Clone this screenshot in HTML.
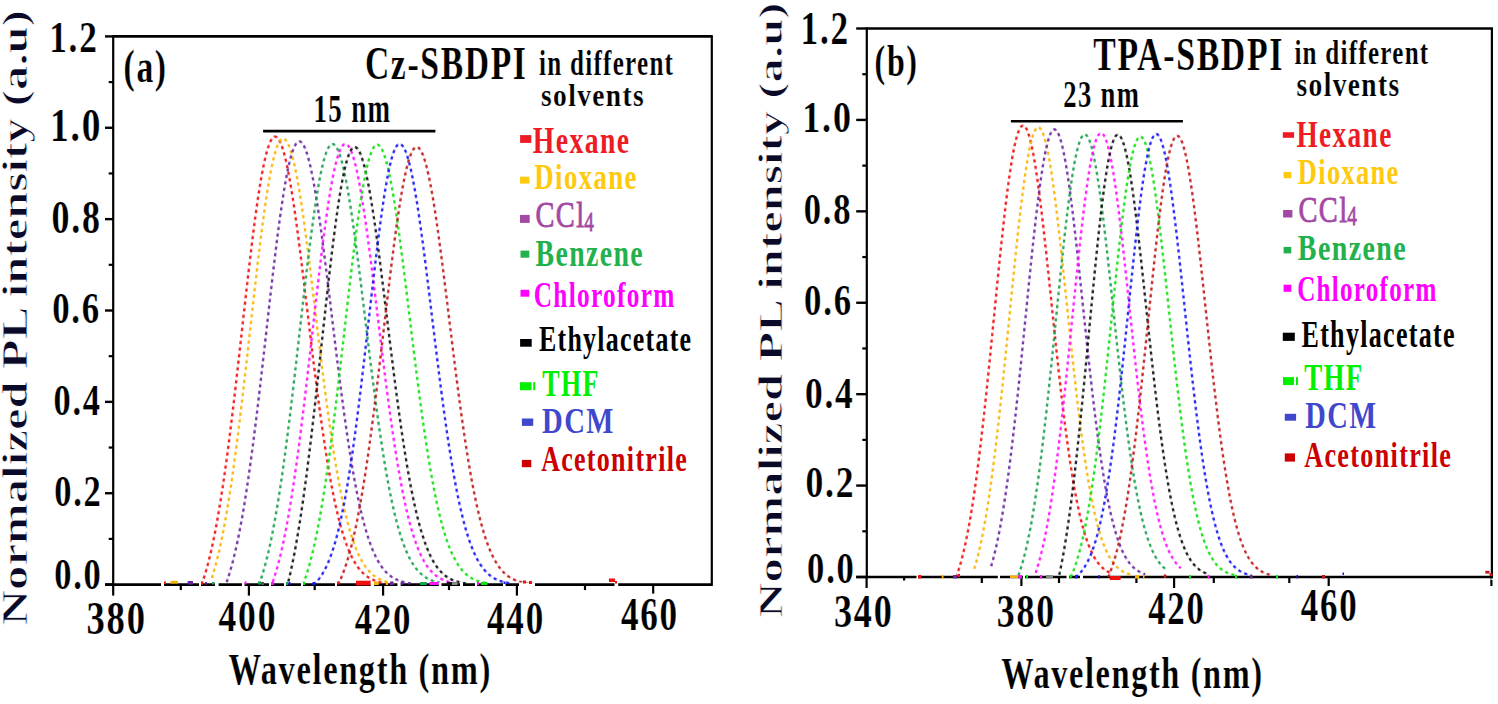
<!DOCTYPE html>
<html><head><meta charset="utf-8"><style>
html,body{margin:0;padding:0;background:#fff;}
body{width:1498px;height:704px;overflow:hidden;}
svg{display:block;}
text{font-family:"Liberation Serif",serif;}
.tv{stroke:#fff;stroke-width:0.8px;}
.th{stroke:#fff;stroke-width:0.2px;}
</style></head><body>
<svg width="1498" height="704" viewBox="0 0 1498 704">
<rect width="1498" height="704" fill="#fff"/>
<line x1="113.20" y1="36.40" x2="712.80" y2="36.40" stroke="#000" stroke-width="2.6" />
<line x1="711.80" y1="36.40" x2="711.80" y2="584.60" stroke="#000" stroke-width="2.2" />
<line x1="113.20" y1="35.10" x2="113.20" y2="585.90" stroke="#000" stroke-width="2.2" />
<line x1="105.00" y1="584.60" x2="712.80" y2="584.60" stroke="#000" stroke-width="2.6" />
<line x1="105.00" y1="584.60" x2="113.20" y2="584.60" stroke="#000" stroke-width="2.4" />
<line x1="108.70" y1="538.92" x2="113.20" y2="538.92" stroke="#000" stroke-width="2.2" />
<line x1="105.00" y1="493.23" x2="113.20" y2="493.23" stroke="#000" stroke-width="2.4" />
<line x1="108.70" y1="447.55" x2="113.20" y2="447.55" stroke="#000" stroke-width="2.2" />
<line x1="105.00" y1="401.87" x2="113.20" y2="401.87" stroke="#000" stroke-width="2.4" />
<line x1="108.70" y1="356.18" x2="113.20" y2="356.18" stroke="#000" stroke-width="2.2" />
<line x1="105.00" y1="310.50" x2="113.20" y2="310.50" stroke="#000" stroke-width="2.4" />
<line x1="108.70" y1="264.82" x2="113.20" y2="264.82" stroke="#000" stroke-width="2.2" />
<line x1="105.00" y1="219.13" x2="113.20" y2="219.13" stroke="#000" stroke-width="2.4" />
<line x1="108.70" y1="173.45" x2="113.20" y2="173.45" stroke="#000" stroke-width="2.2" />
<line x1="105.00" y1="127.77" x2="113.20" y2="127.77" stroke="#000" stroke-width="2.4" />
<line x1="108.70" y1="82.08" x2="113.20" y2="82.08" stroke="#000" stroke-width="2.2" />
<line x1="105.00" y1="36.40" x2="113.20" y2="36.40" stroke="#000" stroke-width="2.4" />
<line x1="113.20" y1="584.60" x2="113.20" y2="595.60" stroke="#000" stroke-width="2.2" />
<line x1="180.80" y1="584.60" x2="180.80" y2="590.10" stroke="#000" stroke-width="2.2" />
<line x1="248.90" y1="584.60" x2="248.90" y2="595.60" stroke="#000" stroke-width="2.2" />
<line x1="314.70" y1="584.60" x2="314.70" y2="590.10" stroke="#000" stroke-width="2.2" />
<line x1="383.10" y1="584.60" x2="383.10" y2="595.60" stroke="#000" stroke-width="2.2" />
<line x1="449.00" y1="584.60" x2="449.00" y2="590.10" stroke="#000" stroke-width="2.2" />
<line x1="516.90" y1="584.60" x2="516.90" y2="595.60" stroke="#000" stroke-width="2.2" />
<line x1="585.00" y1="584.60" x2="585.00" y2="590.10" stroke="#000" stroke-width="2.2" />
<line x1="653.20" y1="584.60" x2="653.20" y2="593.60" stroke="#000" stroke-width="2.2" />
<path d="M201.6,584.6 L202.6,581.8 L203.6,578.8 L204.6,575.6 L205.6,572.3 L206.6,568.8 L207.6,565.2 L208.6,561.3 L209.6,557.3 L210.6,553.1 L211.6,548.8 L212.6,544.2 L213.6,539.4 L214.6,534.5 L215.6,529.3 L216.6,523.9 L217.6,518.4 L218.6,512.6 L219.6,506.7 L220.6,500.5 L221.6,494.2 L222.6,487.6 L223.6,480.9 L224.6,473.9 L225.6,466.8 L226.6,459.5 L227.6,452.0 L228.6,444.4 L229.6,436.5 L230.6,428.6 L231.6,420.4 L232.6,412.2 L233.6,403.8 L234.6,395.3 L235.6,386.7 L236.6,378.0 L237.6,369.2 L238.6,360.3 L239.6,351.4 L240.6,342.4 L241.6,333.5 L242.6,324.5 L243.6,315.5 L244.6,306.6 L245.6,297.6 L246.6,288.8 L247.6,280.0 L248.6,271.4 L249.6,262.8 L250.6,254.4 L251.6,246.1 L252.6,238.0 L253.6,230.1 L254.6,222.4 L255.6,214.9 L256.6,207.7 L257.6,200.7 L258.6,194.1 L259.6,187.7 L260.6,181.6 L261.6,175.8 L262.6,170.4 L263.6,165.4 L264.6,160.7 L265.6,156.4 L266.6,152.6 L267.6,149.1 L268.6,146.0 L269.6,143.3 L270.6,141.1 L271.6,139.3 L272.6,138.0 L273.6,137.1 L274.6,136.7 L275.6,136.7 L276.6,137.1 L277.6,137.9 L278.6,139.2 L279.6,140.9 L280.6,143.0 L281.6,145.5 L282.6,148.4 L283.6,151.7 L284.6,155.3 L285.6,159.4 L286.6,163.8 L287.6,168.5 L288.6,173.6 L289.6,179.0 L290.6,184.8 L291.6,190.8 L292.6,197.1 L293.6,203.6 L294.6,210.4 L295.6,217.4 L296.6,224.6 L297.6,232.1 L298.6,239.7 L299.6,247.4 L300.6,255.3 L301.6,263.3 L302.6,271.4 L303.6,279.6 L304.6,287.9 L305.6,296.2 L306.6,304.5 L307.6,312.9 L308.6,321.2 L309.6,329.6 L310.6,337.9 L311.6,346.2 L312.6,354.4 L313.6,362.5 L314.6,370.5 L315.6,378.5 L316.6,386.4 L317.6,394.1 L318.6,401.7 L319.6,409.1 L320.6,416.5 L321.6,423.6 L322.6,430.6 L323.6,437.5 L324.6,444.1 L325.6,450.6 L326.6,457.0 L327.6,463.1 L328.6,469.0 L329.6,474.8 L330.6,480.4 L331.6,485.7 L332.6,490.9 L333.6,495.9 L334.6,500.8 L335.6,505.4 L336.6,509.8 L337.6,514.1 L338.6,518.2 L339.6,522.1 L340.6,525.8 L341.6,529.4 L342.6,532.8 L343.6,536.0 L344.6,539.1 L345.6,542.0 L346.6,544.8 L347.6,547.4 L348.6,549.9 L349.6,552.2 L350.6,554.4 L351.6,556.5 L352.6,558.5 L353.6,560.4 L354.6,562.1 L355.6,563.8 L356.6,565.3 L357.6,566.7 L358.6,568.1 L359.6,569.3 L360.6,570.5 L361.6,571.6 L362.6,572.7 L363.6,573.6 L364.6,574.5 L365.6,575.3 L366.6,576.1 L367.6,576.8 L368.6,577.5 L369.6,578.1 L370.6,578.6 L371.6,579.1 L372.6,579.6 L373.6,580.1 L374.6,580.5 L375.6,580.8 L376.6,581.2 L377.6,581.5 L378.6,581.8 L379.6,582.1 L380.6,582.3 L381.6,582.5 L382.6,582.7 L383.6,582.9 L384.6,583.1 L385.6,583.2 L386.6,583.4" fill="none" stroke="#f01010" stroke-width="2.6" stroke-dasharray="4.6 2" stroke-dashoffset="0.8" stroke-opacity="0.28"/>
<path d="M201.6,584.6 L202.6,581.8 L203.6,578.8 L204.6,575.6 L205.6,572.3 L206.6,568.8 L207.6,565.2 L208.6,561.3 L209.6,557.3 L210.6,553.1 L211.6,548.8 L212.6,544.2 L213.6,539.4 L214.6,534.5 L215.6,529.3 L216.6,523.9 L217.6,518.4 L218.6,512.6 L219.6,506.7 L220.6,500.5 L221.6,494.2 L222.6,487.6 L223.6,480.9 L224.6,473.9 L225.6,466.8 L226.6,459.5 L227.6,452.0 L228.6,444.4 L229.6,436.5 L230.6,428.6 L231.6,420.4 L232.6,412.2 L233.6,403.8 L234.6,395.3 L235.6,386.7 L236.6,378.0 L237.6,369.2 L238.6,360.3 L239.6,351.4 L240.6,342.4 L241.6,333.5 L242.6,324.5 L243.6,315.5 L244.6,306.6 L245.6,297.6 L246.6,288.8 L247.6,280.0 L248.6,271.4 L249.6,262.8 L250.6,254.4 L251.6,246.1 L252.6,238.0 L253.6,230.1 L254.6,222.4 L255.6,214.9 L256.6,207.7 L257.6,200.7 L258.6,194.1 L259.6,187.7 L260.6,181.6 L261.6,175.8 L262.6,170.4 L263.6,165.4 L264.6,160.7 L265.6,156.4 L266.6,152.6 L267.6,149.1 L268.6,146.0 L269.6,143.3 L270.6,141.1 L271.6,139.3 L272.6,138.0 L273.6,137.1 L274.6,136.7 L275.6,136.7 L276.6,137.1 L277.6,137.9 L278.6,139.2 L279.6,140.9 L280.6,143.0 L281.6,145.5 L282.6,148.4 L283.6,151.7 L284.6,155.3 L285.6,159.4 L286.6,163.8 L287.6,168.5 L288.6,173.6 L289.6,179.0 L290.6,184.8 L291.6,190.8 L292.6,197.1 L293.6,203.6 L294.6,210.4 L295.6,217.4 L296.6,224.6 L297.6,232.1 L298.6,239.7 L299.6,247.4 L300.6,255.3 L301.6,263.3 L302.6,271.4 L303.6,279.6 L304.6,287.9 L305.6,296.2 L306.6,304.5 L307.6,312.9 L308.6,321.2 L309.6,329.6 L310.6,337.9 L311.6,346.2 L312.6,354.4 L313.6,362.5 L314.6,370.5 L315.6,378.5 L316.6,386.4 L317.6,394.1 L318.6,401.7 L319.6,409.1 L320.6,416.5 L321.6,423.6 L322.6,430.6 L323.6,437.5 L324.6,444.1 L325.6,450.6 L326.6,457.0 L327.6,463.1 L328.6,469.0 L329.6,474.8 L330.6,480.4 L331.6,485.7 L332.6,490.9 L333.6,495.9 L334.6,500.8 L335.6,505.4 L336.6,509.8 L337.6,514.1 L338.6,518.2 L339.6,522.1 L340.6,525.8 L341.6,529.4 L342.6,532.8 L343.6,536.0 L344.6,539.1 L345.6,542.0 L346.6,544.8 L347.6,547.4 L348.6,549.9 L349.6,552.2 L350.6,554.4 L351.6,556.5 L352.6,558.5 L353.6,560.4 L354.6,562.1 L355.6,563.8 L356.6,565.3 L357.6,566.7 L358.6,568.1 L359.6,569.3 L360.6,570.5 L361.6,571.6 L362.6,572.7 L363.6,573.6 L364.6,574.5 L365.6,575.3 L366.6,576.1 L367.6,576.8 L368.6,577.5 L369.6,578.1 L370.6,578.6 L371.6,579.1 L372.6,579.6 L373.6,580.1 L374.6,580.5 L375.6,580.8 L376.6,581.2 L377.6,581.5 L378.6,581.8 L379.6,582.1 L380.6,582.3 L381.6,582.5 L382.6,582.7 L383.6,582.9 L384.6,583.1 L385.6,583.2 L386.6,583.4" fill="none" stroke="#f01010" stroke-width="2.2" stroke-dasharray="2.6 4" stroke-opacity="0.9"/>
<path d="M211.9,577.9 L212.9,574.7 L213.9,571.3 L214.9,567.8 L215.9,564.1 L216.9,560.3 L217.9,556.2 L218.9,552.0 L219.9,547.6 L220.9,543.0 L221.9,538.2 L222.9,533.2 L223.9,528.0 L224.9,522.6 L225.9,517.0 L226.9,511.2 L227.9,505.2 L228.9,499.0 L229.9,492.6 L230.9,486.0 L231.9,479.3 L232.9,472.3 L233.9,465.2 L234.9,457.8 L235.9,450.3 L236.9,442.7 L237.9,434.8 L238.9,426.9 L239.9,418.7 L240.9,410.5 L241.9,402.1 L242.9,393.6 L243.9,385.0 L244.9,376.3 L245.9,367.5 L246.9,358.7 L247.9,349.8 L248.9,340.9 L249.9,331.9 L250.9,323.0 L251.9,314.0 L252.9,305.1 L253.9,296.3 L254.9,287.5 L255.9,278.8 L256.9,270.2 L257.9,261.7 L258.9,253.4 L259.9,245.2 L260.9,237.2 L261.9,229.4 L262.9,221.8 L263.9,214.4 L264.9,207.3 L265.9,200.4 L266.9,193.9 L267.9,187.6 L268.9,181.6 L269.9,176.0 L270.9,170.8 L271.9,165.8 L272.9,161.3 L273.9,157.2 L274.9,153.4 L275.9,150.0 L276.9,147.1 L277.9,144.6 L278.9,142.5 L279.9,140.9 L280.9,139.7 L281.9,138.9 L282.9,138.6 L283.9,138.7 L284.9,139.3 L285.9,140.3 L286.9,141.6 L287.9,143.4 L288.9,145.6 L289.9,148.3 L290.9,151.3 L291.9,154.7 L292.9,158.4 L293.9,162.6 L294.9,167.0 L295.9,171.9 L296.9,177.0 L297.9,182.5 L298.9,188.3 L299.9,194.4 L300.9,200.7 L301.9,207.3 L302.9,214.1 L303.9,221.2 L304.9,228.4 L305.9,235.9 L306.9,243.5 L307.9,251.3 L308.9,259.1 L309.9,267.1 L310.9,275.2 L311.9,283.4 L312.9,291.7 L313.9,300.0 L314.9,308.3 L315.9,316.6 L316.9,324.9 L317.9,333.2 L318.9,341.5 L319.9,349.7 L320.9,357.8 L321.9,365.9 L322.9,373.9 L323.9,381.8 L324.9,389.6 L325.9,397.2 L326.9,404.7 L327.9,412.1 L328.9,419.4 L329.9,426.5 L330.9,433.4 L331.9,440.1 L332.9,446.7 L333.9,453.1 L334.9,459.4 L335.9,465.4 L336.9,471.3 L337.9,477.0 L338.9,482.5 L339.9,487.8 L340.9,492.9 L341.9,497.8 L342.9,502.5 L343.9,507.1 L344.9,511.5 L345.9,515.6 L346.9,519.7 L347.9,523.5 L348.9,527.2 L349.9,530.7 L350.9,534.0 L351.9,537.2 L352.9,540.2 L353.9,543.0 L354.9,545.7 L355.9,548.3 L356.9,550.7 L357.9,553.0 L358.9,555.2 L359.9,557.3 L360.9,559.2 L361.9,561.0 L362.9,562.7 L363.9,564.3 L364.9,565.8 L365.9,567.2 L366.9,568.5 L367.9,569.8 L368.9,570.9 L369.9,572.0 L370.9,573.0 L371.9,573.9 L372.9,574.8 L373.9,575.6 L374.9,576.3 L375.9,577.0 L376.9,577.7 L377.9,578.3 L378.9,578.8 L379.9,579.3 L380.9,579.8 L381.9,580.2 L382.9,580.6 L383.9,581.0 L384.9,581.3 L385.9,581.6 L386.9,581.9 L387.9,582.1 L388.9,582.4 L389.9,582.6 L390.9,582.8 L391.9,583.0 L392.9,583.1 L393.9,583.3 L394.9,583.4" fill="none" stroke="#f8b400" stroke-width="2.6" stroke-dasharray="4.6 2" stroke-dashoffset="0.8" stroke-opacity="0.28"/>
<path d="M211.9,577.9 L212.9,574.7 L213.9,571.3 L214.9,567.8 L215.9,564.1 L216.9,560.3 L217.9,556.2 L218.9,552.0 L219.9,547.6 L220.9,543.0 L221.9,538.2 L222.9,533.2 L223.9,528.0 L224.9,522.6 L225.9,517.0 L226.9,511.2 L227.9,505.2 L228.9,499.0 L229.9,492.6 L230.9,486.0 L231.9,479.3 L232.9,472.3 L233.9,465.2 L234.9,457.8 L235.9,450.3 L236.9,442.7 L237.9,434.8 L238.9,426.9 L239.9,418.7 L240.9,410.5 L241.9,402.1 L242.9,393.6 L243.9,385.0 L244.9,376.3 L245.9,367.5 L246.9,358.7 L247.9,349.8 L248.9,340.9 L249.9,331.9 L250.9,323.0 L251.9,314.0 L252.9,305.1 L253.9,296.3 L254.9,287.5 L255.9,278.8 L256.9,270.2 L257.9,261.7 L258.9,253.4 L259.9,245.2 L260.9,237.2 L261.9,229.4 L262.9,221.8 L263.9,214.4 L264.9,207.3 L265.9,200.4 L266.9,193.9 L267.9,187.6 L268.9,181.6 L269.9,176.0 L270.9,170.8 L271.9,165.8 L272.9,161.3 L273.9,157.2 L274.9,153.4 L275.9,150.0 L276.9,147.1 L277.9,144.6 L278.9,142.5 L279.9,140.9 L280.9,139.7 L281.9,138.9 L282.9,138.6 L283.9,138.7 L284.9,139.3 L285.9,140.3 L286.9,141.6 L287.9,143.4 L288.9,145.6 L289.9,148.3 L290.9,151.3 L291.9,154.7 L292.9,158.4 L293.9,162.6 L294.9,167.0 L295.9,171.9 L296.9,177.0 L297.9,182.5 L298.9,188.3 L299.9,194.4 L300.9,200.7 L301.9,207.3 L302.9,214.1 L303.9,221.2 L304.9,228.4 L305.9,235.9 L306.9,243.5 L307.9,251.3 L308.9,259.1 L309.9,267.1 L310.9,275.2 L311.9,283.4 L312.9,291.7 L313.9,300.0 L314.9,308.3 L315.9,316.6 L316.9,324.9 L317.9,333.2 L318.9,341.5 L319.9,349.7 L320.9,357.8 L321.9,365.9 L322.9,373.9 L323.9,381.8 L324.9,389.6 L325.9,397.2 L326.9,404.7 L327.9,412.1 L328.9,419.4 L329.9,426.5 L330.9,433.4 L331.9,440.1 L332.9,446.7 L333.9,453.1 L334.9,459.4 L335.9,465.4 L336.9,471.3 L337.9,477.0 L338.9,482.5 L339.9,487.8 L340.9,492.9 L341.9,497.8 L342.9,502.5 L343.9,507.1 L344.9,511.5 L345.9,515.6 L346.9,519.7 L347.9,523.5 L348.9,527.2 L349.9,530.7 L350.9,534.0 L351.9,537.2 L352.9,540.2 L353.9,543.0 L354.9,545.7 L355.9,548.3 L356.9,550.7 L357.9,553.0 L358.9,555.2 L359.9,557.3 L360.9,559.2 L361.9,561.0 L362.9,562.7 L363.9,564.3 L364.9,565.8 L365.9,567.2 L366.9,568.5 L367.9,569.8 L368.9,570.9 L369.9,572.0 L370.9,573.0 L371.9,573.9 L372.9,574.8 L373.9,575.6 L374.9,576.3 L375.9,577.0 L376.9,577.7 L377.9,578.3 L378.9,578.8 L379.9,579.3 L380.9,579.8 L381.9,580.2 L382.9,580.6 L383.9,581.0 L384.9,581.3 L385.9,581.6 L386.9,581.9 L387.9,582.1 L388.9,582.4 L389.9,582.6 L390.9,582.8 L391.9,583.0 L392.9,583.1 L393.9,583.3 L394.9,583.4" fill="none" stroke="#f8b400" stroke-width="2.2" stroke-dasharray="2.6 4" stroke-opacity="0.9"/>
<path d="M226.7,582.1 L227.7,579.1 L228.7,576.0 L229.7,572.8 L230.7,569.3 L231.7,565.7 L232.7,562.0 L233.7,558.0 L234.7,553.9 L235.7,549.6 L236.7,545.1 L237.7,540.4 L238.7,535.5 L239.7,530.4 L240.7,525.1 L241.7,519.7 L242.7,514.0 L243.7,508.1 L244.7,502.0 L245.7,495.8 L246.7,489.3 L247.7,482.6 L248.7,475.8 L249.7,468.8 L250.7,461.6 L251.7,454.2 L252.7,446.6 L253.7,438.9 L254.7,431.0 L255.7,423.0 L256.7,414.9 L257.7,406.6 L258.7,398.2 L259.7,389.7 L260.7,381.0 L261.7,372.4 L262.7,363.6 L263.7,354.8 L264.7,345.9 L265.7,337.1 L266.7,328.2 L267.7,319.3 L268.7,310.4 L269.7,301.6 L270.7,292.8 L271.7,284.2 L272.7,275.6 L273.7,267.1 L274.7,258.7 L275.7,250.5 L276.7,242.5 L277.7,234.7 L278.7,227.0 L279.7,219.6 L280.7,212.4 L281.7,205.5 L282.7,198.9 L283.7,192.5 L284.7,186.5 L285.7,180.8 L286.7,175.4 L287.7,170.4 L288.7,165.7 L289.7,161.4 L290.7,157.5 L291.7,154.1 L292.7,151.0 L293.7,148.3 L294.7,146.1 L295.7,144.3 L296.7,142.9 L297.7,142.0 L298.7,141.5 L299.7,141.4 L300.7,141.8 L301.7,142.6 L302.7,143.8 L303.7,145.4 L304.7,147.5 L305.7,149.9 L306.7,152.7 L307.7,156.0 L308.7,159.6 L309.7,163.5 L310.7,167.8 L311.7,172.5 L312.7,177.5 L313.7,182.8 L314.7,188.5 L315.7,194.4 L316.7,200.6 L317.7,207.0 L318.7,213.7 L319.7,220.6 L320.7,227.8 L321.7,235.1 L322.7,242.6 L323.7,250.2 L324.7,258.0 L325.7,265.9 L326.7,274.0 L327.7,282.1 L328.7,290.2 L329.7,298.4 L330.7,306.7 L331.7,315.0 L332.7,323.2 L333.7,331.5 L334.7,339.7 L335.7,347.9 L336.7,356.0 L337.7,364.1 L338.7,372.1 L339.7,379.9 L340.7,387.7 L341.7,395.4 L342.7,402.9 L343.7,410.3 L344.7,417.5 L345.7,424.6 L346.7,431.6 L347.7,438.4 L348.7,445.0 L349.7,451.4 L350.7,457.7 L351.7,463.8 L352.7,469.7 L353.7,475.4 L354.7,480.9 L355.7,486.3 L356.7,491.4 L357.7,496.4 L358.7,501.2 L359.7,505.8 L360.7,510.2 L361.7,514.4 L362.7,518.5 L363.7,522.4 L364.7,526.1 L365.7,529.6 L366.7,533.0 L367.7,536.2 L368.7,539.3 L369.7,542.2 L370.7,544.9 L371.7,547.5 L372.7,550.0 L373.7,552.3 L374.7,554.6 L375.7,556.6 L376.7,558.6 L377.7,560.4 L378.7,562.2 L379.7,563.8 L380.7,565.4 L381.7,566.8 L382.7,568.1 L383.7,569.4 L384.7,570.6 L385.7,571.7 L386.7,572.7 L387.7,573.6 L388.7,574.5 L389.7,575.3 L390.7,576.1 L391.7,576.8 L392.7,577.5 L393.7,578.1 L394.7,578.6 L395.7,579.2 L396.7,579.6 L397.7,580.1 L398.7,580.5 L399.7,580.8 L400.7,581.2 L401.7,581.5 L402.7,581.8 L403.7,582.1 L404.7,582.3 L405.7,582.5 L406.7,582.7 L407.7,582.9 L408.7,583.1 L409.7,583.2 L410.7,583.4" fill="none" stroke="#6a28a0" stroke-width="2.6" stroke-dasharray="4.6 2" stroke-dashoffset="0.8" stroke-opacity="0.28"/>
<path d="M226.7,582.1 L227.7,579.1 L228.7,576.0 L229.7,572.8 L230.7,569.3 L231.7,565.7 L232.7,562.0 L233.7,558.0 L234.7,553.9 L235.7,549.6 L236.7,545.1 L237.7,540.4 L238.7,535.5 L239.7,530.4 L240.7,525.1 L241.7,519.7 L242.7,514.0 L243.7,508.1 L244.7,502.0 L245.7,495.8 L246.7,489.3 L247.7,482.6 L248.7,475.8 L249.7,468.8 L250.7,461.6 L251.7,454.2 L252.7,446.6 L253.7,438.9 L254.7,431.0 L255.7,423.0 L256.7,414.9 L257.7,406.6 L258.7,398.2 L259.7,389.7 L260.7,381.0 L261.7,372.4 L262.7,363.6 L263.7,354.8 L264.7,345.9 L265.7,337.1 L266.7,328.2 L267.7,319.3 L268.7,310.4 L269.7,301.6 L270.7,292.8 L271.7,284.2 L272.7,275.6 L273.7,267.1 L274.7,258.7 L275.7,250.5 L276.7,242.5 L277.7,234.7 L278.7,227.0 L279.7,219.6 L280.7,212.4 L281.7,205.5 L282.7,198.9 L283.7,192.5 L284.7,186.5 L285.7,180.8 L286.7,175.4 L287.7,170.4 L288.7,165.7 L289.7,161.4 L290.7,157.5 L291.7,154.1 L292.7,151.0 L293.7,148.3 L294.7,146.1 L295.7,144.3 L296.7,142.9 L297.7,142.0 L298.7,141.5 L299.7,141.4 L300.7,141.8 L301.7,142.6 L302.7,143.8 L303.7,145.4 L304.7,147.5 L305.7,149.9 L306.7,152.7 L307.7,156.0 L308.7,159.6 L309.7,163.5 L310.7,167.8 L311.7,172.5 L312.7,177.5 L313.7,182.8 L314.7,188.5 L315.7,194.4 L316.7,200.6 L317.7,207.0 L318.7,213.7 L319.7,220.6 L320.7,227.8 L321.7,235.1 L322.7,242.6 L323.7,250.2 L324.7,258.0 L325.7,265.9 L326.7,274.0 L327.7,282.1 L328.7,290.2 L329.7,298.4 L330.7,306.7 L331.7,315.0 L332.7,323.2 L333.7,331.5 L334.7,339.7 L335.7,347.9 L336.7,356.0 L337.7,364.1 L338.7,372.1 L339.7,379.9 L340.7,387.7 L341.7,395.4 L342.7,402.9 L343.7,410.3 L344.7,417.5 L345.7,424.6 L346.7,431.6 L347.7,438.4 L348.7,445.0 L349.7,451.4 L350.7,457.7 L351.7,463.8 L352.7,469.7 L353.7,475.4 L354.7,480.9 L355.7,486.3 L356.7,491.4 L357.7,496.4 L358.7,501.2 L359.7,505.8 L360.7,510.2 L361.7,514.4 L362.7,518.5 L363.7,522.4 L364.7,526.1 L365.7,529.6 L366.7,533.0 L367.7,536.2 L368.7,539.3 L369.7,542.2 L370.7,544.9 L371.7,547.5 L372.7,550.0 L373.7,552.3 L374.7,554.6 L375.7,556.6 L376.7,558.6 L377.7,560.4 L378.7,562.2 L379.7,563.8 L380.7,565.4 L381.7,566.8 L382.7,568.1 L383.7,569.4 L384.7,570.6 L385.7,571.7 L386.7,572.7 L387.7,573.6 L388.7,574.5 L389.7,575.3 L390.7,576.1 L391.7,576.8 L392.7,577.5 L393.7,578.1 L394.7,578.6 L395.7,579.2 L396.7,579.6 L397.7,580.1 L398.7,580.5 L399.7,580.8 L400.7,581.2 L401.7,581.5 L402.7,581.8 L403.7,582.1 L404.7,582.3 L405.7,582.5 L406.7,582.7 L407.7,582.9 L408.7,583.1 L409.7,583.2 L410.7,583.4" fill="none" stroke="#6a28a0" stroke-width="2.2" stroke-dasharray="2.6 4" stroke-opacity="0.9"/>
<path d="M259.0,584.6 L260.0,581.8 L261.0,578.9 L262.0,575.8 L263.0,572.5 L264.0,569.1 L265.0,565.5 L266.0,561.7 L267.0,557.8 L268.0,553.7 L269.0,549.3 L270.0,544.9 L271.0,540.2 L272.0,535.3 L273.0,530.2 L274.0,524.9 L275.0,519.5 L276.0,513.8 L277.0,508.0 L278.0,501.9 L279.0,495.6 L280.0,489.2 L281.0,482.6 L282.0,475.7 L283.0,468.7 L284.0,461.6 L285.0,454.2 L286.0,446.7 L287.0,439.0 L288.0,431.1 L289.0,423.2 L290.0,415.0 L291.0,406.8 L292.0,398.4 L293.0,389.9 L294.0,381.4 L295.0,372.7 L296.0,364.0 L297.0,355.3 L298.0,346.4 L299.0,337.6 L300.0,328.8 L301.0,320.0 L302.0,311.1 L303.0,302.4 L304.0,293.7 L305.0,285.1 L306.0,276.5 L307.0,268.1 L308.0,259.8 L309.0,251.7 L310.0,243.7 L311.0,236.0 L312.0,228.4 L313.0,221.0 L314.0,213.9 L315.0,207.1 L316.0,200.5 L317.0,194.2 L318.0,188.2 L319.0,182.6 L320.0,177.3 L321.0,172.3 L322.0,167.7 L323.0,163.5 L324.0,159.7 L325.0,156.3 L326.0,153.2 L327.0,150.6 L328.0,148.5 L329.0,146.7 L330.0,145.4 L331.0,144.5 L332.0,144.1 L333.0,144.1 L334.0,144.5 L335.0,145.3 L336.0,146.5 L337.0,148.2 L338.0,150.3 L339.0,152.7 L340.0,155.6 L341.0,158.8 L342.0,162.4 L343.0,166.4 L344.0,170.7 L345.0,175.4 L346.0,180.4 L347.0,185.7 L348.0,191.4 L349.0,197.3 L350.0,203.5 L351.0,209.9 L352.0,216.6 L353.0,223.5 L354.0,230.6 L355.0,237.9 L356.0,245.4 L357.0,253.0 L358.0,260.7 L359.0,268.6 L360.0,276.6 L361.0,284.6 L362.0,292.8 L363.0,300.9 L364.0,309.1 L365.0,317.4 L366.0,325.6 L367.0,333.8 L368.0,342.0 L369.0,350.1 L370.0,358.2 L371.0,366.2 L372.0,374.1 L373.0,381.9 L374.0,389.6 L375.0,397.2 L376.0,404.7 L377.0,412.0 L378.0,419.2 L379.0,426.3 L380.0,433.2 L381.0,439.9 L382.0,446.5 L383.0,452.8 L384.0,459.1 L385.0,465.1 L386.0,470.9 L387.0,476.6 L388.0,482.1 L389.0,487.4 L390.0,492.5 L391.0,497.4 L392.0,502.1 L393.0,506.7 L394.0,511.1 L395.0,515.3 L396.0,519.3 L397.0,523.1 L398.0,526.8 L399.0,530.3 L400.0,533.6 L401.0,536.8 L402.0,539.8 L403.0,542.7 L404.0,545.4 L405.0,548.0 L406.0,550.4 L407.0,552.8 L408.0,554.9 L409.0,557.0 L410.0,558.9 L411.0,560.8 L412.0,562.5 L413.0,564.1 L414.0,565.6 L415.0,567.0 L416.0,568.4 L417.0,569.6 L418.0,570.8 L419.0,571.8 L420.0,572.8 L421.0,573.8 L422.0,574.7 L423.0,575.5 L424.0,576.2 L425.0,576.9 L426.0,577.6 L427.0,578.2 L428.0,578.7 L429.0,579.2 L430.0,579.7 L431.0,580.1 L432.0,580.5 L433.0,580.9 L434.0,581.2 L435.0,581.6 L436.0,581.8 L437.0,582.1 L438.0,582.3 L439.0,582.5 L440.0,582.7 L441.0,582.9 L442.0,583.1 L443.0,583.2 L444.0,583.4" fill="none" stroke="#1ba050" stroke-width="2.6" stroke-dasharray="4.6 2" stroke-dashoffset="0.8" stroke-opacity="0.28"/>
<path d="M259.0,584.6 L260.0,581.8 L261.0,578.9 L262.0,575.8 L263.0,572.5 L264.0,569.1 L265.0,565.5 L266.0,561.7 L267.0,557.8 L268.0,553.7 L269.0,549.3 L270.0,544.9 L271.0,540.2 L272.0,535.3 L273.0,530.2 L274.0,524.9 L275.0,519.5 L276.0,513.8 L277.0,508.0 L278.0,501.9 L279.0,495.6 L280.0,489.2 L281.0,482.6 L282.0,475.7 L283.0,468.7 L284.0,461.6 L285.0,454.2 L286.0,446.7 L287.0,439.0 L288.0,431.1 L289.0,423.2 L290.0,415.0 L291.0,406.8 L292.0,398.4 L293.0,389.9 L294.0,381.4 L295.0,372.7 L296.0,364.0 L297.0,355.3 L298.0,346.4 L299.0,337.6 L300.0,328.8 L301.0,320.0 L302.0,311.1 L303.0,302.4 L304.0,293.7 L305.0,285.1 L306.0,276.5 L307.0,268.1 L308.0,259.8 L309.0,251.7 L310.0,243.7 L311.0,236.0 L312.0,228.4 L313.0,221.0 L314.0,213.9 L315.0,207.1 L316.0,200.5 L317.0,194.2 L318.0,188.2 L319.0,182.6 L320.0,177.3 L321.0,172.3 L322.0,167.7 L323.0,163.5 L324.0,159.7 L325.0,156.3 L326.0,153.2 L327.0,150.6 L328.0,148.5 L329.0,146.7 L330.0,145.4 L331.0,144.5 L332.0,144.1 L333.0,144.1 L334.0,144.5 L335.0,145.3 L336.0,146.5 L337.0,148.2 L338.0,150.3 L339.0,152.7 L340.0,155.6 L341.0,158.8 L342.0,162.4 L343.0,166.4 L344.0,170.7 L345.0,175.4 L346.0,180.4 L347.0,185.7 L348.0,191.4 L349.0,197.3 L350.0,203.5 L351.0,209.9 L352.0,216.6 L353.0,223.5 L354.0,230.6 L355.0,237.9 L356.0,245.4 L357.0,253.0 L358.0,260.7 L359.0,268.6 L360.0,276.6 L361.0,284.6 L362.0,292.8 L363.0,300.9 L364.0,309.1 L365.0,317.4 L366.0,325.6 L367.0,333.8 L368.0,342.0 L369.0,350.1 L370.0,358.2 L371.0,366.2 L372.0,374.1 L373.0,381.9 L374.0,389.6 L375.0,397.2 L376.0,404.7 L377.0,412.0 L378.0,419.2 L379.0,426.3 L380.0,433.2 L381.0,439.9 L382.0,446.5 L383.0,452.8 L384.0,459.1 L385.0,465.1 L386.0,470.9 L387.0,476.6 L388.0,482.1 L389.0,487.4 L390.0,492.5 L391.0,497.4 L392.0,502.1 L393.0,506.7 L394.0,511.1 L395.0,515.3 L396.0,519.3 L397.0,523.1 L398.0,526.8 L399.0,530.3 L400.0,533.6 L401.0,536.8 L402.0,539.8 L403.0,542.7 L404.0,545.4 L405.0,548.0 L406.0,550.4 L407.0,552.8 L408.0,554.9 L409.0,557.0 L410.0,558.9 L411.0,560.8 L412.0,562.5 L413.0,564.1 L414.0,565.6 L415.0,567.0 L416.0,568.4 L417.0,569.6 L418.0,570.8 L419.0,571.8 L420.0,572.8 L421.0,573.8 L422.0,574.7 L423.0,575.5 L424.0,576.2 L425.0,576.9 L426.0,577.6 L427.0,578.2 L428.0,578.7 L429.0,579.2 L430.0,579.7 L431.0,580.1 L432.0,580.5 L433.0,580.9 L434.0,581.2 L435.0,581.6 L436.0,581.8 L437.0,582.1 L438.0,582.3 L439.0,582.5 L440.0,582.7 L441.0,582.9 L442.0,583.1 L443.0,583.2 L444.0,583.4" fill="none" stroke="#1ba050" stroke-width="2.2" stroke-dasharray="2.6 4" stroke-opacity="0.9"/>
<path d="M272.8,581.8 L273.8,578.9 L274.8,575.8 L275.8,572.5 L276.8,569.1 L277.8,565.5 L278.8,561.7 L279.8,557.8 L280.8,553.7 L281.8,549.3 L282.8,544.9 L283.8,540.2 L284.8,535.3 L285.8,530.2 L286.8,524.9 L287.8,519.5 L288.8,513.8 L289.8,508.0 L290.8,501.9 L291.8,495.6 L292.8,489.2 L293.8,482.6 L294.8,475.7 L295.8,468.7 L296.8,461.6 L297.8,454.2 L298.8,446.7 L299.8,439.0 L300.8,431.1 L301.8,423.2 L302.8,415.0 L303.8,406.8 L304.8,398.4 L305.8,389.9 L306.8,381.4 L307.8,372.7 L308.8,364.0 L309.8,355.3 L310.8,346.4 L311.8,337.6 L312.8,328.8 L313.8,320.0 L314.8,311.1 L315.8,302.4 L316.8,293.7 L317.8,285.1 L318.8,276.5 L319.8,268.1 L320.8,259.8 L321.8,251.7 L322.8,243.7 L323.8,236.0 L324.8,228.4 L325.8,221.0 L326.8,213.9 L327.8,207.1 L328.8,200.5 L329.8,194.2 L330.8,188.2 L331.8,182.6 L332.8,177.3 L333.8,172.3 L334.8,167.7 L335.8,163.5 L336.8,159.7 L337.8,156.3 L338.8,153.2 L339.8,150.6 L340.8,148.5 L341.8,146.7 L342.8,145.4 L343.8,144.5 L344.8,144.1 L345.8,144.1 L346.8,144.5 L347.8,145.3 L348.8,146.5 L349.8,148.2 L350.8,150.3 L351.8,152.7 L352.8,155.6 L353.8,158.8 L354.8,162.4 L355.8,166.4 L356.8,170.7 L357.8,175.4 L358.8,180.4 L359.8,185.7 L360.8,191.4 L361.8,197.3 L362.8,203.5 L363.8,209.9 L364.8,216.6 L365.8,223.5 L366.8,230.6 L367.8,237.9 L368.8,245.4 L369.8,253.0 L370.8,260.7 L371.8,268.6 L372.8,276.6 L373.8,284.6 L374.8,292.8 L375.8,300.9 L376.8,309.1 L377.8,317.4 L378.8,325.6 L379.8,333.8 L380.8,342.0 L381.8,350.1 L382.8,358.2 L383.8,366.2 L384.8,374.1 L385.8,381.9 L386.8,389.6 L387.8,397.2 L388.8,404.7 L389.8,412.0 L390.8,419.2 L391.8,426.3 L392.8,433.2 L393.8,439.9 L394.8,446.5 L395.8,452.8 L396.8,459.1 L397.8,465.1 L398.8,470.9 L399.8,476.6 L400.8,482.1 L401.8,487.4 L402.8,492.5 L403.8,497.4 L404.8,502.1 L405.8,506.7 L406.8,511.1 L407.8,515.3 L408.8,519.3 L409.8,523.1 L410.8,526.8 L411.8,530.3 L412.8,533.6 L413.8,536.8 L414.8,539.8 L415.8,542.7 L416.8,545.4 L417.8,548.0 L418.8,550.4 L419.8,552.8 L420.8,554.9 L421.8,557.0 L422.8,558.9 L423.8,560.8 L424.8,562.5 L425.8,564.1 L426.8,565.6 L427.8,567.0 L428.8,568.4 L429.8,569.6 L430.8,570.8 L431.8,571.8 L432.8,572.8 L433.8,573.8 L434.8,574.7 L435.8,575.5 L436.8,576.2 L437.8,576.9 L438.8,577.6 L439.8,578.2 L440.8,578.7 L441.8,579.2 L442.8,579.7 L443.8,580.1 L444.8,580.5 L445.8,580.9 L446.8,581.2 L447.8,581.6 L448.8,581.8 L449.8,582.1 L450.8,582.3 L451.8,582.5 L452.8,582.7 L453.8,582.9 L454.8,583.1 L455.8,583.2 L456.8,583.4" fill="none" stroke="#ff10ff" stroke-width="2.6" stroke-dasharray="4.6 2" stroke-dashoffset="0.8" stroke-opacity="0.28"/>
<path d="M272.8,581.8 L273.8,578.9 L274.8,575.8 L275.8,572.5 L276.8,569.1 L277.8,565.5 L278.8,561.7 L279.8,557.8 L280.8,553.7 L281.8,549.3 L282.8,544.9 L283.8,540.2 L284.8,535.3 L285.8,530.2 L286.8,524.9 L287.8,519.5 L288.8,513.8 L289.8,508.0 L290.8,501.9 L291.8,495.6 L292.8,489.2 L293.8,482.6 L294.8,475.7 L295.8,468.7 L296.8,461.6 L297.8,454.2 L298.8,446.7 L299.8,439.0 L300.8,431.1 L301.8,423.2 L302.8,415.0 L303.8,406.8 L304.8,398.4 L305.8,389.9 L306.8,381.4 L307.8,372.7 L308.8,364.0 L309.8,355.3 L310.8,346.4 L311.8,337.6 L312.8,328.8 L313.8,320.0 L314.8,311.1 L315.8,302.4 L316.8,293.7 L317.8,285.1 L318.8,276.5 L319.8,268.1 L320.8,259.8 L321.8,251.7 L322.8,243.7 L323.8,236.0 L324.8,228.4 L325.8,221.0 L326.8,213.9 L327.8,207.1 L328.8,200.5 L329.8,194.2 L330.8,188.2 L331.8,182.6 L332.8,177.3 L333.8,172.3 L334.8,167.7 L335.8,163.5 L336.8,159.7 L337.8,156.3 L338.8,153.2 L339.8,150.6 L340.8,148.5 L341.8,146.7 L342.8,145.4 L343.8,144.5 L344.8,144.1 L345.8,144.1 L346.8,144.5 L347.8,145.3 L348.8,146.5 L349.8,148.2 L350.8,150.3 L351.8,152.7 L352.8,155.6 L353.8,158.8 L354.8,162.4 L355.8,166.4 L356.8,170.7 L357.8,175.4 L358.8,180.4 L359.8,185.7 L360.8,191.4 L361.8,197.3 L362.8,203.5 L363.8,209.9 L364.8,216.6 L365.8,223.5 L366.8,230.6 L367.8,237.9 L368.8,245.4 L369.8,253.0 L370.8,260.7 L371.8,268.6 L372.8,276.6 L373.8,284.6 L374.8,292.8 L375.8,300.9 L376.8,309.1 L377.8,317.4 L378.8,325.6 L379.8,333.8 L380.8,342.0 L381.8,350.1 L382.8,358.2 L383.8,366.2 L384.8,374.1 L385.8,381.9 L386.8,389.6 L387.8,397.2 L388.8,404.7 L389.8,412.0 L390.8,419.2 L391.8,426.3 L392.8,433.2 L393.8,439.9 L394.8,446.5 L395.8,452.8 L396.8,459.1 L397.8,465.1 L398.8,470.9 L399.8,476.6 L400.8,482.1 L401.8,487.4 L402.8,492.5 L403.8,497.4 L404.8,502.1 L405.8,506.7 L406.8,511.1 L407.8,515.3 L408.8,519.3 L409.8,523.1 L410.8,526.8 L411.8,530.3 L412.8,533.6 L413.8,536.8 L414.8,539.8 L415.8,542.7 L416.8,545.4 L417.8,548.0 L418.8,550.4 L419.8,552.8 L420.8,554.9 L421.8,557.0 L422.8,558.9 L423.8,560.8 L424.8,562.5 L425.8,564.1 L426.8,565.6 L427.8,567.0 L428.8,568.4 L429.8,569.6 L430.8,570.8 L431.8,571.8 L432.8,572.8 L433.8,573.8 L434.8,574.7 L435.8,575.5 L436.8,576.2 L437.8,576.9 L438.8,577.6 L439.8,578.2 L440.8,578.7 L441.8,579.2 L442.8,579.7 L443.8,580.1 L444.8,580.5 L445.8,580.9 L446.8,581.2 L447.8,581.6 L448.8,581.8 L449.8,582.1 L450.8,582.3 L451.8,582.5 L452.8,582.7 L453.8,582.9 L454.8,583.1 L455.8,583.2 L456.8,583.4" fill="none" stroke="#ff10ff" stroke-width="2.2" stroke-dasharray="2.6 4" stroke-opacity="0.9"/>
<path d="M288.4,581.4 L289.4,577.2 L290.4,572.9 L291.4,568.3 L292.4,563.6 L293.4,558.6 L294.4,553.5 L295.4,548.1 L296.4,542.6 L297.4,536.8 L298.4,530.8 L299.4,524.7 L300.4,518.3 L301.4,511.7 L302.4,504.9 L303.4,498.0 L304.4,490.8 L305.4,483.4 L306.4,475.9 L307.4,468.1 L308.4,460.2 L309.4,452.2 L310.4,444.0 L311.4,435.6 L312.4,427.1 L313.4,418.4 L314.4,409.7 L315.4,400.8 L316.4,391.8 L317.4,382.8 L318.4,373.7 L319.4,364.5 L320.4,355.4 L321.4,346.1 L322.4,336.9 L323.4,327.7 L324.4,318.6 L325.4,309.4 L326.4,300.4 L327.4,291.4 L328.4,282.6 L329.4,273.8 L330.4,265.2 L331.4,256.8 L332.4,248.5 L333.4,240.5 L334.4,232.7 L335.4,225.1 L336.4,217.7 L337.4,210.7 L338.4,203.9 L339.4,197.5 L340.4,191.3 L341.4,185.6 L342.4,180.1 L343.4,175.1 L344.4,170.4 L345.4,166.1 L346.4,162.2 L347.4,158.8 L348.4,155.8 L349.4,153.2 L350.4,151.0 L351.4,149.4 L352.4,148.1 L353.4,147.3 L354.4,147.0 L355.4,147.1 L356.4,147.7 L357.4,148.6 L358.4,150.0 L359.4,151.7 L360.4,153.9 L361.4,156.5 L362.4,159.4 L363.4,162.8 L364.4,166.4 L365.4,170.5 L366.4,174.9 L367.4,179.7 L368.4,184.7 L369.4,190.1 L370.4,195.8 L371.4,201.7 L372.4,207.9 L373.4,214.4 L374.4,221.1 L375.4,228.0 L376.4,235.2 L377.4,242.5 L378.4,249.9 L379.4,257.5 L380.4,265.3 L381.4,273.1 L382.4,281.1 L383.4,289.1 L384.4,297.2 L385.4,305.3 L386.4,313.5 L387.4,321.6 L388.4,329.8 L389.4,337.9 L390.4,346.0 L391.4,354.1 L392.4,362.1 L393.4,370.0 L394.4,377.9 L395.4,385.6 L396.4,393.2 L397.4,400.7 L398.4,408.1 L399.4,415.4 L400.4,422.5 L401.4,429.4 L402.4,436.2 L403.4,442.9 L404.4,449.3 L405.4,455.6 L406.4,461.7 L407.4,467.7 L408.4,473.4 L409.4,479.0 L410.4,484.4 L411.4,489.6 L412.4,494.6 L413.4,499.4 L414.4,504.1 L415.4,508.5 L416.4,512.8 L417.4,516.9 L418.4,520.9 L419.4,524.6 L420.4,528.2 L421.4,531.7 L422.4,534.9 L423.4,538.0 L424.4,541.0 L425.4,543.8 L426.4,546.5 L427.4,549.0 L428.4,551.4 L429.4,553.6 L430.4,555.8 L431.4,557.8 L432.4,559.7 L433.4,561.5 L434.4,563.1 L435.4,564.7 L436.4,566.2 L437.4,567.6 L438.4,568.8 L439.4,570.1 L440.4,571.2 L441.4,572.2 L442.4,573.2 L443.4,574.1 L444.4,575.0 L445.4,575.8 L446.4,576.5 L447.4,577.2 L448.4,577.8 L449.4,578.4 L450.4,578.9 L451.4,579.4 L452.4,579.9 L453.4,580.3 L454.4,580.7 L455.4,581.0 L456.4,581.4 L457.4,581.7 L458.4,581.9 L459.4,582.2 L460.4,582.4 L461.4,582.6 L462.4,582.8 L463.4,583.0 L464.4,583.1 L465.4,583.3 L466.4,583.4" fill="none" stroke="#111111" stroke-width="2.6" stroke-dasharray="4.6 2" stroke-dashoffset="0.8" stroke-opacity="0.28"/>
<path d="M288.4,581.4 L289.4,577.2 L290.4,572.9 L291.4,568.3 L292.4,563.6 L293.4,558.6 L294.4,553.5 L295.4,548.1 L296.4,542.6 L297.4,536.8 L298.4,530.8 L299.4,524.7 L300.4,518.3 L301.4,511.7 L302.4,504.9 L303.4,498.0 L304.4,490.8 L305.4,483.4 L306.4,475.9 L307.4,468.1 L308.4,460.2 L309.4,452.2 L310.4,444.0 L311.4,435.6 L312.4,427.1 L313.4,418.4 L314.4,409.7 L315.4,400.8 L316.4,391.8 L317.4,382.8 L318.4,373.7 L319.4,364.5 L320.4,355.4 L321.4,346.1 L322.4,336.9 L323.4,327.7 L324.4,318.6 L325.4,309.4 L326.4,300.4 L327.4,291.4 L328.4,282.6 L329.4,273.8 L330.4,265.2 L331.4,256.8 L332.4,248.5 L333.4,240.5 L334.4,232.7 L335.4,225.1 L336.4,217.7 L337.4,210.7 L338.4,203.9 L339.4,197.5 L340.4,191.3 L341.4,185.6 L342.4,180.1 L343.4,175.1 L344.4,170.4 L345.4,166.1 L346.4,162.2 L347.4,158.8 L348.4,155.8 L349.4,153.2 L350.4,151.0 L351.4,149.4 L352.4,148.1 L353.4,147.3 L354.4,147.0 L355.4,147.1 L356.4,147.7 L357.4,148.6 L358.4,150.0 L359.4,151.7 L360.4,153.9 L361.4,156.5 L362.4,159.4 L363.4,162.8 L364.4,166.4 L365.4,170.5 L366.4,174.9 L367.4,179.7 L368.4,184.7 L369.4,190.1 L370.4,195.8 L371.4,201.7 L372.4,207.9 L373.4,214.4 L374.4,221.1 L375.4,228.0 L376.4,235.2 L377.4,242.5 L378.4,249.9 L379.4,257.5 L380.4,265.3 L381.4,273.1 L382.4,281.1 L383.4,289.1 L384.4,297.2 L385.4,305.3 L386.4,313.5 L387.4,321.6 L388.4,329.8 L389.4,337.9 L390.4,346.0 L391.4,354.1 L392.4,362.1 L393.4,370.0 L394.4,377.9 L395.4,385.6 L396.4,393.2 L397.4,400.7 L398.4,408.1 L399.4,415.4 L400.4,422.5 L401.4,429.4 L402.4,436.2 L403.4,442.9 L404.4,449.3 L405.4,455.6 L406.4,461.7 L407.4,467.7 L408.4,473.4 L409.4,479.0 L410.4,484.4 L411.4,489.6 L412.4,494.6 L413.4,499.4 L414.4,504.1 L415.4,508.5 L416.4,512.8 L417.4,516.9 L418.4,520.9 L419.4,524.6 L420.4,528.2 L421.4,531.7 L422.4,534.9 L423.4,538.0 L424.4,541.0 L425.4,543.8 L426.4,546.5 L427.4,549.0 L428.4,551.4 L429.4,553.6 L430.4,555.8 L431.4,557.8 L432.4,559.7 L433.4,561.5 L434.4,563.1 L435.4,564.7 L436.4,566.2 L437.4,567.6 L438.4,568.8 L439.4,570.1 L440.4,571.2 L441.4,572.2 L442.4,573.2 L443.4,574.1 L444.4,575.0 L445.4,575.8 L446.4,576.5 L447.4,577.2 L448.4,577.8 L449.4,578.4 L450.4,578.9 L451.4,579.4 L452.4,579.9 L453.4,580.3 L454.4,580.7 L455.4,581.0 L456.4,581.4 L457.4,581.7 L458.4,581.9 L459.4,582.2 L460.4,582.4 L461.4,582.6 L462.4,582.8 L463.4,583.0 L464.4,583.1 L465.4,583.3 L466.4,583.4" fill="none" stroke="#111111" stroke-width="2.2" stroke-dasharray="2.6 4" stroke-opacity="0.9"/>
<path d="M303.0,584.6 L304.0,581.9 L305.0,579.1 L306.0,576.1 L307.0,573.0 L308.0,569.7 L309.0,566.3 L310.0,562.6 L311.0,558.8 L312.0,554.9 L313.0,550.7 L314.0,546.4 L315.0,541.8 L316.0,537.1 L317.0,532.2 L318.0,527.1 L319.0,521.8 L320.0,516.3 L321.0,510.6 L322.0,504.7 L323.0,498.7 L324.0,492.4 L325.0,485.9 L326.0,479.3 L327.0,472.4 L328.0,465.4 L329.0,458.2 L330.0,450.8 L331.0,443.3 L332.0,435.6 L333.0,427.8 L334.0,419.8 L335.0,411.7 L336.0,403.4 L337.0,395.1 L338.0,386.6 L339.0,378.1 L340.0,369.5 L341.0,360.8 L342.0,352.1 L343.0,343.3 L344.0,334.5 L345.0,325.7 L346.0,316.9 L347.0,308.2 L348.0,299.5 L349.0,290.9 L350.0,282.3 L351.0,273.9 L352.0,265.5 L353.0,257.3 L354.0,249.3 L355.0,241.4 L356.0,233.8 L357.0,226.3 L358.0,219.1 L359.0,212.1 L360.0,205.3 L361.0,198.9 L362.0,192.7 L363.0,186.9 L364.0,181.4 L365.0,176.2 L366.0,171.4 L367.0,166.9 L368.0,162.8 L369.0,159.1 L370.0,155.8 L371.0,153.0 L372.0,150.5 L373.0,148.5 L374.0,146.8 L375.0,145.7 L376.0,144.9 L377.0,144.6 L378.0,144.7 L379.0,145.3 L380.0,146.2 L381.0,147.6 L382.0,149.4 L383.0,151.6 L384.0,154.1 L385.0,157.1 L386.0,160.4 L387.0,164.2 L388.0,168.2 L389.0,172.7 L390.0,177.4 L391.0,182.5 L392.0,187.9 L393.0,193.6 L394.0,199.6 L395.0,205.9 L396.0,212.4 L397.0,219.1 L398.0,226.1 L399.0,233.2 L400.0,240.6 L401.0,248.1 L402.0,255.7 L403.0,263.5 L404.0,271.4 L405.0,279.4 L406.0,287.5 L407.0,295.6 L408.0,303.8 L409.0,312.0 L410.0,320.2 L411.0,328.4 L412.0,336.6 L413.0,344.7 L414.0,352.8 L415.0,360.9 L416.0,368.8 L417.0,376.7 L418.0,384.5 L419.0,392.2 L420.0,399.7 L421.0,407.2 L422.0,414.4 L423.0,421.6 L424.0,428.6 L425.0,435.4 L426.0,442.1 L427.0,448.6 L428.0,454.9 L429.0,461.1 L430.0,467.0 L431.0,472.8 L432.0,478.4 L433.0,483.8 L434.0,489.1 L435.0,494.1 L436.0,499.0 L437.0,503.6 L438.0,508.1 L439.0,512.4 L440.0,516.6 L441.0,520.5 L442.0,524.3 L443.0,527.9 L444.0,531.4 L445.0,534.7 L446.0,537.8 L447.0,540.8 L448.0,543.6 L449.0,546.3 L450.0,548.8 L451.0,551.2 L452.0,553.5 L453.0,555.6 L454.0,557.6 L455.0,559.5 L456.0,561.3 L457.0,563.0 L458.0,564.6 L459.0,566.1 L460.0,567.5 L461.0,568.8 L462.0,570.0 L463.0,571.1 L464.0,572.2 L465.0,573.2 L466.0,574.1 L467.0,574.9 L468.0,575.7 L469.0,576.5 L470.0,577.1 L471.0,577.8 L472.0,578.4 L473.0,578.9 L474.0,579.4 L475.0,579.8 L476.0,580.3 L477.0,580.7 L478.0,581.0 L479.0,581.3 L480.0,581.6 L481.0,581.9 L482.0,582.2 L483.0,582.4 L484.0,582.6 L485.0,582.8 L486.0,583.0 L487.0,583.1 L488.0,583.3 L489.0,583.4" fill="none" stroke="#10e010" stroke-width="2.6" stroke-dasharray="4.6 2" stroke-dashoffset="0.8" stroke-opacity="0.28"/>
<path d="M303.0,584.6 L304.0,581.9 L305.0,579.1 L306.0,576.1 L307.0,573.0 L308.0,569.7 L309.0,566.3 L310.0,562.6 L311.0,558.8 L312.0,554.9 L313.0,550.7 L314.0,546.4 L315.0,541.8 L316.0,537.1 L317.0,532.2 L318.0,527.1 L319.0,521.8 L320.0,516.3 L321.0,510.6 L322.0,504.7 L323.0,498.7 L324.0,492.4 L325.0,485.9 L326.0,479.3 L327.0,472.4 L328.0,465.4 L329.0,458.2 L330.0,450.8 L331.0,443.3 L332.0,435.6 L333.0,427.8 L334.0,419.8 L335.0,411.7 L336.0,403.4 L337.0,395.1 L338.0,386.6 L339.0,378.1 L340.0,369.5 L341.0,360.8 L342.0,352.1 L343.0,343.3 L344.0,334.5 L345.0,325.7 L346.0,316.9 L347.0,308.2 L348.0,299.5 L349.0,290.9 L350.0,282.3 L351.0,273.9 L352.0,265.5 L353.0,257.3 L354.0,249.3 L355.0,241.4 L356.0,233.8 L357.0,226.3 L358.0,219.1 L359.0,212.1 L360.0,205.3 L361.0,198.9 L362.0,192.7 L363.0,186.9 L364.0,181.4 L365.0,176.2 L366.0,171.4 L367.0,166.9 L368.0,162.8 L369.0,159.1 L370.0,155.8 L371.0,153.0 L372.0,150.5 L373.0,148.5 L374.0,146.8 L375.0,145.7 L376.0,144.9 L377.0,144.6 L378.0,144.7 L379.0,145.3 L380.0,146.2 L381.0,147.6 L382.0,149.4 L383.0,151.6 L384.0,154.1 L385.0,157.1 L386.0,160.4 L387.0,164.2 L388.0,168.2 L389.0,172.7 L390.0,177.4 L391.0,182.5 L392.0,187.9 L393.0,193.6 L394.0,199.6 L395.0,205.9 L396.0,212.4 L397.0,219.1 L398.0,226.1 L399.0,233.2 L400.0,240.6 L401.0,248.1 L402.0,255.7 L403.0,263.5 L404.0,271.4 L405.0,279.4 L406.0,287.5 L407.0,295.6 L408.0,303.8 L409.0,312.0 L410.0,320.2 L411.0,328.4 L412.0,336.6 L413.0,344.7 L414.0,352.8 L415.0,360.9 L416.0,368.8 L417.0,376.7 L418.0,384.5 L419.0,392.2 L420.0,399.7 L421.0,407.2 L422.0,414.4 L423.0,421.6 L424.0,428.6 L425.0,435.4 L426.0,442.1 L427.0,448.6 L428.0,454.9 L429.0,461.1 L430.0,467.0 L431.0,472.8 L432.0,478.4 L433.0,483.8 L434.0,489.1 L435.0,494.1 L436.0,499.0 L437.0,503.6 L438.0,508.1 L439.0,512.4 L440.0,516.6 L441.0,520.5 L442.0,524.3 L443.0,527.9 L444.0,531.4 L445.0,534.7 L446.0,537.8 L447.0,540.8 L448.0,543.6 L449.0,546.3 L450.0,548.8 L451.0,551.2 L452.0,553.5 L453.0,555.6 L454.0,557.6 L455.0,559.5 L456.0,561.3 L457.0,563.0 L458.0,564.6 L459.0,566.1 L460.0,567.5 L461.0,568.8 L462.0,570.0 L463.0,571.1 L464.0,572.2 L465.0,573.2 L466.0,574.1 L467.0,574.9 L468.0,575.7 L469.0,576.5 L470.0,577.1 L471.0,577.8 L472.0,578.4 L473.0,578.9 L474.0,579.4 L475.0,579.8 L476.0,580.3 L477.0,580.7 L478.0,581.0 L479.0,581.3 L480.0,581.6 L481.0,581.9 L482.0,582.2 L483.0,582.4 L484.0,582.6 L485.0,582.8 L486.0,583.0 L487.0,583.1 L488.0,583.3 L489.0,583.4" fill="none" stroke="#10e010" stroke-width="2.2" stroke-dasharray="2.6 4" stroke-opacity="0.9"/>
<path d="M313.6,584.6 L314.6,583.7 L315.6,582.7 L316.6,581.7 L317.6,580.6 L318.6,579.4 L319.6,578.1 L320.6,576.7 L321.6,575.2 L322.6,573.6 L323.6,571.9 L324.6,570.1 L325.6,568.1 L326.6,566.1 L327.6,563.9 L328.6,561.5 L329.6,559.0 L330.6,556.4 L331.6,553.6 L332.6,550.6 L333.6,547.5 L334.6,544.2 L335.6,540.8 L336.6,537.1 L337.6,533.3 L338.6,529.2 L339.6,525.0 L340.6,520.6 L341.6,516.0 L342.6,511.2 L343.6,506.1 L344.6,500.9 L345.6,495.5 L346.6,489.8 L347.6,483.9 L348.6,477.9 L349.6,471.6 L350.6,465.1 L351.6,458.4 L352.6,451.6 L353.6,444.5 L354.6,437.2 L355.6,429.8 L356.6,422.2 L357.6,414.4 L358.6,406.5 L359.6,398.4 L360.6,390.2 L361.6,381.8 L362.6,373.4 L363.6,364.8 L364.6,356.2 L365.6,347.5 L366.6,338.7 L367.6,329.9 L368.6,321.1 L369.6,312.3 L370.6,303.5 L371.6,294.8 L372.6,286.1 L373.6,277.5 L374.6,269.0 L375.6,260.6 L376.6,252.3 L377.6,244.2 L378.6,236.3 L379.6,228.6 L380.6,221.1 L381.6,213.8 L382.6,206.9 L383.6,200.1 L384.6,193.7 L385.6,187.6 L386.6,181.9 L387.6,176.5 L388.6,171.5 L389.6,166.8 L390.6,162.6 L391.6,158.7 L392.6,155.3 L393.6,152.4 L394.6,149.8 L395.6,147.7 L396.6,146.1 L397.6,144.9 L398.6,144.2 L399.6,144.0 L400.6,144.2 L401.6,144.8 L402.6,145.9 L403.6,147.3 L404.6,149.2 L405.6,151.4 L406.6,154.1 L407.6,157.1 L408.6,160.6 L409.6,164.4 L410.6,168.5 L411.6,173.0 L412.6,177.9 L413.6,183.0 L414.6,188.5 L415.6,194.3 L416.6,200.3 L417.6,206.6 L418.6,213.2 L419.6,220.0 L420.6,227.0 L421.6,234.2 L422.6,241.6 L423.6,249.1 L424.6,256.8 L425.6,264.7 L426.6,272.6 L427.6,280.6 L428.6,288.7 L429.6,296.8 L430.6,305.0 L431.6,313.3 L432.6,321.5 L433.6,329.7 L434.6,337.9 L435.6,346.0 L436.6,354.1 L437.6,362.2 L438.6,370.1 L439.6,378.0 L440.6,385.8 L441.6,393.4 L442.6,401.0 L443.6,408.4 L444.6,415.7 L445.6,422.8 L446.6,429.7 L447.6,436.6 L448.6,443.2 L449.6,449.7 L450.6,456.0 L451.6,462.1 L452.6,468.0 L453.6,473.8 L454.6,479.4 L455.6,484.8 L456.6,490.0 L457.6,495.0 L458.6,499.8 L459.6,504.4 L460.6,508.9 L461.6,513.2 L462.6,517.3 L463.6,521.2 L464.6,525.0 L465.6,528.6 L466.6,532.0 L467.6,535.2 L468.6,538.3 L469.6,541.3 L470.6,544.1 L471.6,546.7 L472.6,549.2 L473.6,551.6 L474.6,553.9 L475.6,556.0 L476.6,558.0 L477.6,559.9 L478.6,561.6 L479.6,563.3 L480.6,564.9 L481.6,566.3 L482.6,567.7 L483.6,569.0 L484.6,570.2 L485.6,571.3 L486.6,572.4 L487.6,573.3 L488.6,574.2 L489.6,575.1 L490.6,575.9 L491.6,576.6 L492.6,577.3 L493.6,577.9 L494.6,578.5 L495.6,579.0 L496.6,579.5 L497.6,579.9 L498.6,580.3 L499.6,580.7 L500.6,581.1 L501.6,581.4 L502.6,581.7 L503.6,582.0 L504.6,582.2 L505.6,582.4 L506.6,582.6 L507.6,582.8 L508.6,583.0 L509.6,583.2 L510.6,583.3 L511.6,583.4" fill="none" stroke="#1818f0" stroke-width="2.6" stroke-dasharray="4.6 2" stroke-dashoffset="0.8" stroke-opacity="0.28"/>
<path d="M313.6,584.6 L314.6,583.7 L315.6,582.7 L316.6,581.7 L317.6,580.6 L318.6,579.4 L319.6,578.1 L320.6,576.7 L321.6,575.2 L322.6,573.6 L323.6,571.9 L324.6,570.1 L325.6,568.1 L326.6,566.1 L327.6,563.9 L328.6,561.5 L329.6,559.0 L330.6,556.4 L331.6,553.6 L332.6,550.6 L333.6,547.5 L334.6,544.2 L335.6,540.8 L336.6,537.1 L337.6,533.3 L338.6,529.2 L339.6,525.0 L340.6,520.6 L341.6,516.0 L342.6,511.2 L343.6,506.1 L344.6,500.9 L345.6,495.5 L346.6,489.8 L347.6,483.9 L348.6,477.9 L349.6,471.6 L350.6,465.1 L351.6,458.4 L352.6,451.6 L353.6,444.5 L354.6,437.2 L355.6,429.8 L356.6,422.2 L357.6,414.4 L358.6,406.5 L359.6,398.4 L360.6,390.2 L361.6,381.8 L362.6,373.4 L363.6,364.8 L364.6,356.2 L365.6,347.5 L366.6,338.7 L367.6,329.9 L368.6,321.1 L369.6,312.3 L370.6,303.5 L371.6,294.8 L372.6,286.1 L373.6,277.5 L374.6,269.0 L375.6,260.6 L376.6,252.3 L377.6,244.2 L378.6,236.3 L379.6,228.6 L380.6,221.1 L381.6,213.8 L382.6,206.9 L383.6,200.1 L384.6,193.7 L385.6,187.6 L386.6,181.9 L387.6,176.5 L388.6,171.5 L389.6,166.8 L390.6,162.6 L391.6,158.7 L392.6,155.3 L393.6,152.4 L394.6,149.8 L395.6,147.7 L396.6,146.1 L397.6,144.9 L398.6,144.2 L399.6,144.0 L400.6,144.2 L401.6,144.8 L402.6,145.9 L403.6,147.3 L404.6,149.2 L405.6,151.4 L406.6,154.1 L407.6,157.1 L408.6,160.6 L409.6,164.4 L410.6,168.5 L411.6,173.0 L412.6,177.9 L413.6,183.0 L414.6,188.5 L415.6,194.3 L416.6,200.3 L417.6,206.6 L418.6,213.2 L419.6,220.0 L420.6,227.0 L421.6,234.2 L422.6,241.6 L423.6,249.1 L424.6,256.8 L425.6,264.7 L426.6,272.6 L427.6,280.6 L428.6,288.7 L429.6,296.8 L430.6,305.0 L431.6,313.3 L432.6,321.5 L433.6,329.7 L434.6,337.9 L435.6,346.0 L436.6,354.1 L437.6,362.2 L438.6,370.1 L439.6,378.0 L440.6,385.8 L441.6,393.4 L442.6,401.0 L443.6,408.4 L444.6,415.7 L445.6,422.8 L446.6,429.7 L447.6,436.6 L448.6,443.2 L449.6,449.7 L450.6,456.0 L451.6,462.1 L452.6,468.0 L453.6,473.8 L454.6,479.4 L455.6,484.8 L456.6,490.0 L457.6,495.0 L458.6,499.8 L459.6,504.4 L460.6,508.9 L461.6,513.2 L462.6,517.3 L463.6,521.2 L464.6,525.0 L465.6,528.6 L466.6,532.0 L467.6,535.2 L468.6,538.3 L469.6,541.3 L470.6,544.1 L471.6,546.7 L472.6,549.2 L473.6,551.6 L474.6,553.9 L475.6,556.0 L476.6,558.0 L477.6,559.9 L478.6,561.6 L479.6,563.3 L480.6,564.9 L481.6,566.3 L482.6,567.7 L483.6,569.0 L484.6,570.2 L485.6,571.3 L486.6,572.4 L487.6,573.3 L488.6,574.2 L489.6,575.1 L490.6,575.9 L491.6,576.6 L492.6,577.3 L493.6,577.9 L494.6,578.5 L495.6,579.0 L496.6,579.5 L497.6,579.9 L498.6,580.3 L499.6,580.7 L500.6,581.1 L501.6,581.4 L502.6,581.7 L503.6,582.0 L504.6,582.2 L505.6,582.4 L506.6,582.6 L507.6,582.8 L508.6,583.0 L509.6,583.2 L510.6,583.3 L511.6,583.4" fill="none" stroke="#1818f0" stroke-width="2.2" stroke-dasharray="2.6 4" stroke-opacity="0.9"/>
<path d="M338.0,584.6 L339.0,582.6 L340.0,580.5 L341.0,578.2 L342.0,575.8 L343.0,573.3 L344.0,570.6 L345.0,567.8 L346.0,564.8 L347.0,561.7 L348.0,558.4 L349.0,555.0 L350.0,551.4 L351.0,547.6 L352.0,543.7 L353.0,539.5 L354.0,535.2 L355.0,530.7 L356.0,526.1 L357.0,521.2 L358.0,516.1 L359.0,510.9 L360.0,505.5 L361.0,499.8 L362.0,494.0 L363.0,488.0 L364.0,481.8 L365.0,475.5 L366.0,468.9 L367.0,462.2 L368.0,455.3 L369.0,448.2 L370.0,440.9 L371.0,433.5 L372.0,426.0 L373.0,418.3 L374.0,410.5 L375.0,402.5 L376.0,394.5 L377.0,386.3 L378.0,378.0 L379.0,369.7 L380.0,361.3 L381.0,352.8 L382.0,344.3 L383.0,335.8 L384.0,327.3 L385.0,318.7 L386.0,310.2 L387.0,301.7 L388.0,293.3 L389.0,285.0 L390.0,276.7 L391.0,268.5 L392.0,260.5 L393.0,252.6 L394.0,244.9 L395.0,237.3 L396.0,230.0 L397.0,222.8 L398.0,215.9 L399.0,209.3 L400.0,202.8 L401.0,196.7 L402.0,190.9 L403.0,185.4 L404.0,180.2 L405.0,175.3 L406.0,170.8 L407.0,166.6 L408.0,162.9 L409.0,159.5 L410.0,156.5 L411.0,153.9 L412.0,151.7 L413.0,149.9 L414.0,148.6 L415.0,147.6 L416.0,147.1 L417.0,147.0 L418.0,147.3 L419.0,148.1 L420.0,149.3 L421.0,150.8 L422.0,152.8 L423.0,155.1 L424.0,157.9 L425.0,161.0 L426.0,164.6 L427.0,168.4 L428.0,172.7 L429.0,177.2 L430.0,182.2 L431.0,187.4 L432.0,192.9 L433.0,198.7 L434.0,204.8 L435.0,211.2 L436.0,217.7 L437.0,224.6 L438.0,231.6 L439.0,238.8 L440.0,246.2 L441.0,253.7 L442.0,261.4 L443.0,269.2 L444.0,277.1 L445.0,285.1 L446.0,293.1 L447.0,301.2 L448.0,309.4 L449.0,317.5 L450.0,325.7 L451.0,333.9 L452.0,342.0 L453.0,350.1 L454.0,358.1 L455.0,366.1 L456.0,374.0 L457.0,381.7 L458.0,389.4 L459.0,397.0 L460.0,404.5 L461.0,411.8 L462.0,418.9 L463.0,426.0 L464.0,432.9 L465.0,439.6 L466.0,446.1 L467.0,452.5 L468.0,458.7 L469.0,464.7 L470.0,470.6 L471.0,476.2 L472.0,481.7 L473.0,487.0 L474.0,492.1 L475.0,497.0 L476.0,501.8 L477.0,506.3 L478.0,510.7 L479.0,514.9 L480.0,518.9 L481.0,522.8 L482.0,526.5 L483.0,530.0 L484.0,533.3 L485.0,536.5 L486.0,539.5 L487.0,542.4 L488.0,545.2 L489.0,547.8 L490.0,550.2 L491.0,552.5 L492.0,554.7 L493.0,556.8 L494.0,558.7 L495.0,560.6 L496.0,562.3 L497.0,563.9 L498.0,565.4 L499.0,566.9 L500.0,568.2 L501.0,569.5 L502.0,570.6 L503.0,571.7 L504.0,572.7 L505.0,573.7 L506.0,574.6 L507.0,575.4 L508.0,576.1 L509.0,576.8 L510.0,577.5 L511.0,578.1 L512.0,578.7 L513.0,579.2 L514.0,579.6 L515.0,580.1 L516.0,580.5 L517.0,580.9 L518.0,581.2 L519.0,581.5 L520.0,581.8 L521.0,582.1 L522.0,582.3 L523.0,582.5 L524.0,582.7 L525.0,582.9 L526.0,583.1 L527.0,583.2 L528.0,583.4 L529.0,583.5 L530.0,583.6 L531.0,583.7 L532.0,583.8 L533.0,583.9 L534.0,584.0" fill="none" stroke="#c01818" stroke-width="2.6" stroke-dasharray="4.6 2" stroke-dashoffset="0.8" stroke-opacity="0.28"/>
<path d="M338.0,584.6 L339.0,582.6 L340.0,580.5 L341.0,578.2 L342.0,575.8 L343.0,573.3 L344.0,570.6 L345.0,567.8 L346.0,564.8 L347.0,561.7 L348.0,558.4 L349.0,555.0 L350.0,551.4 L351.0,547.6 L352.0,543.7 L353.0,539.5 L354.0,535.2 L355.0,530.7 L356.0,526.1 L357.0,521.2 L358.0,516.1 L359.0,510.9 L360.0,505.5 L361.0,499.8 L362.0,494.0 L363.0,488.0 L364.0,481.8 L365.0,475.5 L366.0,468.9 L367.0,462.2 L368.0,455.3 L369.0,448.2 L370.0,440.9 L371.0,433.5 L372.0,426.0 L373.0,418.3 L374.0,410.5 L375.0,402.5 L376.0,394.5 L377.0,386.3 L378.0,378.0 L379.0,369.7 L380.0,361.3 L381.0,352.8 L382.0,344.3 L383.0,335.8 L384.0,327.3 L385.0,318.7 L386.0,310.2 L387.0,301.7 L388.0,293.3 L389.0,285.0 L390.0,276.7 L391.0,268.5 L392.0,260.5 L393.0,252.6 L394.0,244.9 L395.0,237.3 L396.0,230.0 L397.0,222.8 L398.0,215.9 L399.0,209.3 L400.0,202.8 L401.0,196.7 L402.0,190.9 L403.0,185.4 L404.0,180.2 L405.0,175.3 L406.0,170.8 L407.0,166.6 L408.0,162.9 L409.0,159.5 L410.0,156.5 L411.0,153.9 L412.0,151.7 L413.0,149.9 L414.0,148.6 L415.0,147.6 L416.0,147.1 L417.0,147.0 L418.0,147.3 L419.0,148.1 L420.0,149.3 L421.0,150.8 L422.0,152.8 L423.0,155.1 L424.0,157.9 L425.0,161.0 L426.0,164.6 L427.0,168.4 L428.0,172.7 L429.0,177.2 L430.0,182.2 L431.0,187.4 L432.0,192.9 L433.0,198.7 L434.0,204.8 L435.0,211.2 L436.0,217.7 L437.0,224.6 L438.0,231.6 L439.0,238.8 L440.0,246.2 L441.0,253.7 L442.0,261.4 L443.0,269.2 L444.0,277.1 L445.0,285.1 L446.0,293.1 L447.0,301.2 L448.0,309.4 L449.0,317.5 L450.0,325.7 L451.0,333.9 L452.0,342.0 L453.0,350.1 L454.0,358.1 L455.0,366.1 L456.0,374.0 L457.0,381.7 L458.0,389.4 L459.0,397.0 L460.0,404.5 L461.0,411.8 L462.0,418.9 L463.0,426.0 L464.0,432.9 L465.0,439.6 L466.0,446.1 L467.0,452.5 L468.0,458.7 L469.0,464.7 L470.0,470.6 L471.0,476.2 L472.0,481.7 L473.0,487.0 L474.0,492.1 L475.0,497.0 L476.0,501.8 L477.0,506.3 L478.0,510.7 L479.0,514.9 L480.0,518.9 L481.0,522.8 L482.0,526.5 L483.0,530.0 L484.0,533.3 L485.0,536.5 L486.0,539.5 L487.0,542.4 L488.0,545.2 L489.0,547.8 L490.0,550.2 L491.0,552.5 L492.0,554.7 L493.0,556.8 L494.0,558.7 L495.0,560.6 L496.0,562.3 L497.0,563.9 L498.0,565.4 L499.0,566.9 L500.0,568.2 L501.0,569.5 L502.0,570.6 L503.0,571.7 L504.0,572.7 L505.0,573.7 L506.0,574.6 L507.0,575.4 L508.0,576.1 L509.0,576.8 L510.0,577.5 L511.0,578.1 L512.0,578.7 L513.0,579.2 L514.0,579.6 L515.0,580.1 L516.0,580.5 L517.0,580.9 L518.0,581.2 L519.0,581.5 L520.0,581.8 L521.0,582.1 L522.0,582.3 L523.0,582.5 L524.0,582.7 L525.0,582.9 L526.0,583.1 L527.0,583.2 L528.0,583.4 L529.0,583.5 L530.0,583.6 L531.0,583.7 L532.0,583.8 L533.0,583.9 L534.0,584.0" fill="none" stroke="#c01818" stroke-width="2.2" stroke-dasharray="2.6 4" stroke-opacity="0.9"/>
<line x1="866.80" y1="28.50" x2="1492.90" y2="28.50" stroke="#000" stroke-width="2.6" />
<line x1="1491.90" y1="28.50" x2="1491.90" y2="577.00" stroke="#000" stroke-width="2.2" />
<line x1="866.80" y1="27.20" x2="866.80" y2="578.30" stroke="#000" stroke-width="2.2" />
<line x1="856.20" y1="577.00" x2="1492.90" y2="577.00" stroke="#000" stroke-width="2.6" />
<line x1="856.20" y1="577.00" x2="866.80" y2="577.00" stroke="#000" stroke-width="2.4" />
<line x1="862.30" y1="531.29" x2="866.80" y2="531.29" stroke="#000" stroke-width="2.2" />
<line x1="856.20" y1="485.58" x2="866.80" y2="485.58" stroke="#000" stroke-width="2.4" />
<line x1="862.30" y1="439.88" x2="866.80" y2="439.88" stroke="#000" stroke-width="2.2" />
<line x1="856.20" y1="394.17" x2="866.80" y2="394.17" stroke="#000" stroke-width="2.4" />
<line x1="862.30" y1="348.46" x2="866.80" y2="348.46" stroke="#000" stroke-width="2.2" />
<line x1="856.20" y1="302.75" x2="866.80" y2="302.75" stroke="#000" stroke-width="2.4" />
<line x1="862.30" y1="257.04" x2="866.80" y2="257.04" stroke="#000" stroke-width="2.2" />
<line x1="856.20" y1="211.33" x2="866.80" y2="211.33" stroke="#000" stroke-width="2.4" />
<line x1="862.30" y1="165.62" x2="866.80" y2="165.62" stroke="#000" stroke-width="2.2" />
<line x1="856.20" y1="119.92" x2="866.80" y2="119.92" stroke="#000" stroke-width="2.4" />
<line x1="862.30" y1="74.21" x2="866.80" y2="74.21" stroke="#000" stroke-width="2.2" />
<line x1="856.20" y1="28.50" x2="866.80" y2="28.50" stroke="#000" stroke-width="2.4" />
<line x1="866.60" y1="577.00" x2="866.60" y2="588.00" stroke="#000" stroke-width="2.2" />
<line x1="904.10" y1="577.00" x2="904.10" y2="580.50" stroke="#000" stroke-width="2.2" />
<line x1="981.80" y1="577.00" x2="981.80" y2="583.00" stroke="#000" stroke-width="2.2" />
<line x1="1021.40" y1="577.00" x2="1021.40" y2="586.00" stroke="#000" stroke-width="2.2" />
<line x1="1059.00" y1="577.00" x2="1059.00" y2="583.00" stroke="#000" stroke-width="2.2" />
<line x1="1136.40" y1="577.00" x2="1136.40" y2="583.00" stroke="#000" stroke-width="2.2" />
<line x1="1174.10" y1="577.00" x2="1174.10" y2="588.00" stroke="#000" stroke-width="2.2" />
<line x1="1213.80" y1="577.00" x2="1213.80" y2="583.00" stroke="#000" stroke-width="2.2" />
<line x1="1289.30" y1="577.00" x2="1289.30" y2="583.00" stroke="#000" stroke-width="2.2" />
<line x1="1328.70" y1="577.00" x2="1328.70" y2="586.00" stroke="#000" stroke-width="2.2" />
<line x1="1491.40" y1="577.00" x2="1491.40" y2="586.00" stroke="#000" stroke-width="2.2" />
<path d="M956.2,577.0 L957.2,574.2 L958.2,571.2 L959.2,568.0 L960.2,564.7 L961.2,561.1 L962.2,557.3 L963.2,553.3 L964.2,549.0 L965.2,544.6 L966.2,539.9 L967.2,534.9 L968.2,529.8 L969.2,524.3 L970.2,518.6 L971.2,512.7 L972.2,506.5 L973.2,500.1 L974.2,493.3 L975.2,486.4 L976.2,479.2 L977.2,471.7 L978.2,464.0 L979.2,456.0 L980.2,447.8 L981.2,439.4 L982.2,430.7 L983.2,421.8 L984.2,412.8 L985.2,403.5 L986.2,394.1 L987.2,384.6 L988.2,374.8 L989.2,365.0 L990.2,355.1 L991.2,345.0 L992.2,334.9 L993.2,324.8 L994.2,314.6 L995.2,304.5 L996.2,294.4 L997.2,284.3 L998.2,274.3 L999.2,264.4 L1000.2,254.7 L1001.2,245.1 L1002.2,235.7 L1003.2,226.6 L1004.2,217.6 L1005.2,209.0 L1006.2,200.6 L1007.2,192.6 L1008.2,184.9 L1009.2,177.6 L1010.2,170.7 L1011.2,164.2 L1012.2,158.1 L1013.2,152.6 L1014.2,147.5 L1015.2,142.9 L1016.2,138.8 L1017.2,135.2 L1018.2,132.2 L1019.2,129.8 L1020.2,127.9 L1021.2,126.5 L1022.2,125.8 L1023.2,125.6 L1024.2,126.0 L1025.2,126.9 L1026.2,128.4 L1027.2,130.5 L1028.2,133.1 L1029.2,136.2 L1030.2,139.8 L1031.2,143.9 L1032.2,148.5 L1033.2,153.6 L1034.2,159.1 L1035.2,165.1 L1036.2,171.5 L1037.2,178.3 L1038.2,185.4 L1039.2,192.9 L1040.2,200.8 L1041.2,208.9 L1042.2,217.2 L1043.2,225.9 L1044.2,234.7 L1045.2,243.7 L1046.2,252.9 L1047.2,262.2 L1048.2,271.7 L1049.2,281.2 L1050.2,290.7 L1051.2,300.3 L1052.2,309.9 L1053.2,319.5 L1054.2,329.1 L1055.2,338.6 L1056.2,348.0 L1057.2,357.3 L1058.2,366.5 L1059.2,375.5 L1060.2,384.4 L1061.2,393.2 L1062.2,401.7 L1063.2,410.1 L1064.2,418.2 L1065.2,426.2 L1066.2,433.9 L1067.2,441.4 L1068.2,448.7 L1069.2,455.7 L1070.2,462.5 L1071.2,469.0 L1072.2,475.3 L1073.2,481.3 L1074.2,487.1 L1075.2,492.6 L1076.2,497.9 L1077.2,503.0 L1078.2,507.8 L1079.2,512.4 L1080.2,516.8 L1081.2,520.9 L1082.2,524.8 L1083.2,528.5 L1084.2,532.0 L1085.2,535.3 L1086.2,538.4 L1087.2,541.3 L1088.2,544.0 L1089.2,546.6 L1090.2,549.0 L1091.2,551.2 L1092.2,553.3 L1093.2,555.3 L1094.2,557.1 L1095.2,558.8 L1096.2,560.3 L1097.2,561.8 L1098.2,563.1 L1099.2,564.3 L1100.2,565.5 L1101.2,566.5 L1102.2,567.5 L1103.2,568.4 L1104.2,569.2 L1105.2,570.0 L1106.2,570.6 L1107.2,571.3 L1108.2,571.8 L1109.2,572.3 L1110.2,572.8" fill="none" stroke="#f01010" stroke-width="2.6" stroke-dasharray="4.6 2" stroke-dashoffset="0.8" stroke-opacity="0.28"/>
<path d="M956.2,577.0 L957.2,574.2 L958.2,571.2 L959.2,568.0 L960.2,564.7 L961.2,561.1 L962.2,557.3 L963.2,553.3 L964.2,549.0 L965.2,544.6 L966.2,539.9 L967.2,534.9 L968.2,529.8 L969.2,524.3 L970.2,518.6 L971.2,512.7 L972.2,506.5 L973.2,500.1 L974.2,493.3 L975.2,486.4 L976.2,479.2 L977.2,471.7 L978.2,464.0 L979.2,456.0 L980.2,447.8 L981.2,439.4 L982.2,430.7 L983.2,421.8 L984.2,412.8 L985.2,403.5 L986.2,394.1 L987.2,384.6 L988.2,374.8 L989.2,365.0 L990.2,355.1 L991.2,345.0 L992.2,334.9 L993.2,324.8 L994.2,314.6 L995.2,304.5 L996.2,294.4 L997.2,284.3 L998.2,274.3 L999.2,264.4 L1000.2,254.7 L1001.2,245.1 L1002.2,235.7 L1003.2,226.6 L1004.2,217.6 L1005.2,209.0 L1006.2,200.6 L1007.2,192.6 L1008.2,184.9 L1009.2,177.6 L1010.2,170.7 L1011.2,164.2 L1012.2,158.1 L1013.2,152.6 L1014.2,147.5 L1015.2,142.9 L1016.2,138.8 L1017.2,135.2 L1018.2,132.2 L1019.2,129.8 L1020.2,127.9 L1021.2,126.5 L1022.2,125.8 L1023.2,125.6 L1024.2,126.0 L1025.2,126.9 L1026.2,128.4 L1027.2,130.5 L1028.2,133.1 L1029.2,136.2 L1030.2,139.8 L1031.2,143.9 L1032.2,148.5 L1033.2,153.6 L1034.2,159.1 L1035.2,165.1 L1036.2,171.5 L1037.2,178.3 L1038.2,185.4 L1039.2,192.9 L1040.2,200.8 L1041.2,208.9 L1042.2,217.2 L1043.2,225.9 L1044.2,234.7 L1045.2,243.7 L1046.2,252.9 L1047.2,262.2 L1048.2,271.7 L1049.2,281.2 L1050.2,290.7 L1051.2,300.3 L1052.2,309.9 L1053.2,319.5 L1054.2,329.1 L1055.2,338.6 L1056.2,348.0 L1057.2,357.3 L1058.2,366.5 L1059.2,375.5 L1060.2,384.4 L1061.2,393.2 L1062.2,401.7 L1063.2,410.1 L1064.2,418.2 L1065.2,426.2 L1066.2,433.9 L1067.2,441.4 L1068.2,448.7 L1069.2,455.7 L1070.2,462.5 L1071.2,469.0 L1072.2,475.3 L1073.2,481.3 L1074.2,487.1 L1075.2,492.6 L1076.2,497.9 L1077.2,503.0 L1078.2,507.8 L1079.2,512.4 L1080.2,516.8 L1081.2,520.9 L1082.2,524.8 L1083.2,528.5 L1084.2,532.0 L1085.2,535.3 L1086.2,538.4 L1087.2,541.3 L1088.2,544.0 L1089.2,546.6 L1090.2,549.0 L1091.2,551.2 L1092.2,553.3 L1093.2,555.3 L1094.2,557.1 L1095.2,558.8 L1096.2,560.3 L1097.2,561.8 L1098.2,563.1 L1099.2,564.3 L1100.2,565.5 L1101.2,566.5 L1102.2,567.5 L1103.2,568.4 L1104.2,569.2 L1105.2,570.0 L1106.2,570.6 L1107.2,571.3 L1108.2,571.8 L1109.2,572.3 L1110.2,572.8" fill="none" stroke="#f01010" stroke-width="2.2" stroke-dasharray="2.6 4" stroke-opacity="0.9"/>
<path d="M974.3,568.7 L975.3,565.4 L976.3,561.9 L977.3,558.1 L978.3,554.2 L979.3,550.0 L980.3,545.6 L981.3,541.0 L982.3,536.1 L983.3,531.0 L984.3,525.6 L985.3,520.0 L986.3,514.1 L987.3,508.0 L988.3,501.6 L989.3,495.0 L990.3,488.1 L991.3,481.0 L992.3,473.6 L993.3,465.9 L994.3,458.1 L995.3,449.9 L996.3,441.6 L997.3,433.0 L998.3,424.2 L999.3,415.2 L1000.3,406.1 L1001.3,396.7 L1002.3,387.2 L1003.3,377.5 L1004.3,367.8 L1005.3,357.9 L1006.3,347.9 L1007.3,337.9 L1008.3,327.8 L1009.3,317.7 L1010.3,307.5 L1011.3,297.4 L1012.3,287.4 L1013.3,277.4 L1014.3,267.6 L1015.3,257.8 L1016.3,248.3 L1017.3,238.9 L1018.3,229.7 L1019.3,220.7 L1020.3,212.1 L1021.3,203.7 L1022.3,195.6 L1023.3,187.9 L1024.3,180.5 L1025.3,173.5 L1026.3,167.0 L1027.3,160.9 L1028.3,155.2 L1029.3,150.0 L1030.3,145.4 L1031.3,141.2 L1032.3,137.5 L1033.3,134.4 L1034.3,131.9 L1035.3,129.9 L1036.3,128.4 L1037.3,127.6 L1038.3,127.3 L1039.3,127.6 L1040.3,128.4 L1041.3,129.8 L1042.3,131.7 L1043.3,134.2 L1044.3,137.2 L1045.3,140.7 L1046.3,144.7 L1047.3,149.2 L1048.3,154.1 L1049.3,159.6 L1050.3,165.4 L1051.3,171.7 L1052.3,178.4 L1053.3,185.5 L1054.3,192.9 L1055.3,200.6 L1056.3,208.6 L1057.3,216.9 L1058.3,225.5 L1059.3,234.2 L1060.3,243.2 L1061.3,252.3 L1062.3,261.5 L1063.3,270.9 L1064.3,280.4 L1065.3,289.9 L1066.3,299.5 L1067.3,309.0 L1068.3,318.6 L1069.3,328.1 L1070.3,337.6 L1071.3,347.0 L1072.3,356.3 L1073.3,365.4 L1074.3,374.5 L1075.3,383.4 L1076.3,392.1 L1077.3,400.7 L1078.3,409.1 L1079.3,417.2 L1080.3,425.2 L1081.3,432.9 L1082.3,440.4 L1083.3,447.7 L1084.3,454.8 L1085.3,461.6 L1086.3,468.1 L1087.3,474.4 L1088.3,480.5 L1089.3,486.3 L1090.3,491.9 L1091.3,497.2 L1092.3,502.3 L1093.3,507.1 L1094.3,511.8 L1095.3,516.1 L1096.3,520.3 L1097.3,524.2 L1098.3,528.0 L1099.3,531.5 L1100.3,534.8 L1101.3,537.9 L1102.3,540.9 L1103.3,543.6 L1104.3,546.2 L1105.3,548.6 L1106.3,550.9 L1107.3,553.0 L1108.3,555.0 L1109.3,556.8 L1110.3,558.5 L1111.3,560.1 L1112.3,561.5 L1113.3,562.9 L1114.3,564.2 L1115.3,565.3 L1116.3,566.4 L1117.3,567.4 L1118.3,568.3 L1119.3,569.1 L1120.3,569.8 L1121.3,570.5 L1122.3,571.2 L1123.3,571.7 L1124.3,572.3 L1125.3,572.7 L1126.3,573.2 L1127.3,573.6 L1128.3,573.9 L1129.3,574.3 L1130.3,574.5 L1131.3,574.8" fill="none" stroke="#f8b400" stroke-width="2.6" stroke-dasharray="4.6 2" stroke-dashoffset="0.8" stroke-opacity="0.28"/>
<path d="M974.3,568.7 L975.3,565.4 L976.3,561.9 L977.3,558.1 L978.3,554.2 L979.3,550.0 L980.3,545.6 L981.3,541.0 L982.3,536.1 L983.3,531.0 L984.3,525.6 L985.3,520.0 L986.3,514.1 L987.3,508.0 L988.3,501.6 L989.3,495.0 L990.3,488.1 L991.3,481.0 L992.3,473.6 L993.3,465.9 L994.3,458.1 L995.3,449.9 L996.3,441.6 L997.3,433.0 L998.3,424.2 L999.3,415.2 L1000.3,406.1 L1001.3,396.7 L1002.3,387.2 L1003.3,377.5 L1004.3,367.8 L1005.3,357.9 L1006.3,347.9 L1007.3,337.9 L1008.3,327.8 L1009.3,317.7 L1010.3,307.5 L1011.3,297.4 L1012.3,287.4 L1013.3,277.4 L1014.3,267.6 L1015.3,257.8 L1016.3,248.3 L1017.3,238.9 L1018.3,229.7 L1019.3,220.7 L1020.3,212.1 L1021.3,203.7 L1022.3,195.6 L1023.3,187.9 L1024.3,180.5 L1025.3,173.5 L1026.3,167.0 L1027.3,160.9 L1028.3,155.2 L1029.3,150.0 L1030.3,145.4 L1031.3,141.2 L1032.3,137.5 L1033.3,134.4 L1034.3,131.9 L1035.3,129.9 L1036.3,128.4 L1037.3,127.6 L1038.3,127.3 L1039.3,127.6 L1040.3,128.4 L1041.3,129.8 L1042.3,131.7 L1043.3,134.2 L1044.3,137.2 L1045.3,140.7 L1046.3,144.7 L1047.3,149.2 L1048.3,154.1 L1049.3,159.6 L1050.3,165.4 L1051.3,171.7 L1052.3,178.4 L1053.3,185.5 L1054.3,192.9 L1055.3,200.6 L1056.3,208.6 L1057.3,216.9 L1058.3,225.5 L1059.3,234.2 L1060.3,243.2 L1061.3,252.3 L1062.3,261.5 L1063.3,270.9 L1064.3,280.4 L1065.3,289.9 L1066.3,299.5 L1067.3,309.0 L1068.3,318.6 L1069.3,328.1 L1070.3,337.6 L1071.3,347.0 L1072.3,356.3 L1073.3,365.4 L1074.3,374.5 L1075.3,383.4 L1076.3,392.1 L1077.3,400.7 L1078.3,409.1 L1079.3,417.2 L1080.3,425.2 L1081.3,432.9 L1082.3,440.4 L1083.3,447.7 L1084.3,454.8 L1085.3,461.6 L1086.3,468.1 L1087.3,474.4 L1088.3,480.5 L1089.3,486.3 L1090.3,491.9 L1091.3,497.2 L1092.3,502.3 L1093.3,507.1 L1094.3,511.8 L1095.3,516.1 L1096.3,520.3 L1097.3,524.2 L1098.3,528.0 L1099.3,531.5 L1100.3,534.8 L1101.3,537.9 L1102.3,540.9 L1103.3,543.6 L1104.3,546.2 L1105.3,548.6 L1106.3,550.9 L1107.3,553.0 L1108.3,555.0 L1109.3,556.8 L1110.3,558.5 L1111.3,560.1 L1112.3,561.5 L1113.3,562.9 L1114.3,564.2 L1115.3,565.3 L1116.3,566.4 L1117.3,567.4 L1118.3,568.3 L1119.3,569.1 L1120.3,569.8 L1121.3,570.5 L1122.3,571.2 L1123.3,571.7 L1124.3,572.3 L1125.3,572.7 L1126.3,573.2 L1127.3,573.6 L1128.3,573.9 L1129.3,574.3 L1130.3,574.5 L1131.3,574.8" fill="none" stroke="#f8b400" stroke-width="2.2" stroke-dasharray="2.6 4" stroke-opacity="0.9"/>
<path d="M991.2,566.1 L992.2,562.7 L993.2,559.0 L994.2,555.1 L995.2,551.0 L996.2,546.6 L997.2,542.1 L998.2,537.3 L999.2,532.2 L1000.2,527.0 L1001.2,521.4 L1002.2,515.6 L1003.2,509.6 L1004.2,503.3 L1005.2,496.7 L1006.2,489.9 L1007.2,482.9 L1008.2,475.6 L1009.2,468.0 L1010.2,460.2 L1011.2,452.2 L1012.2,443.9 L1013.2,435.4 L1014.2,426.7 L1015.2,417.8 L1016.2,408.7 L1017.2,399.4 L1018.2,390.0 L1019.2,380.4 L1020.2,370.7 L1021.2,360.9 L1022.2,351.0 L1023.2,341.0 L1024.2,330.9 L1025.2,320.9 L1026.2,310.8 L1027.2,300.8 L1028.2,290.8 L1029.2,280.8 L1030.2,271.0 L1031.2,261.3 L1032.2,251.7 L1033.2,242.3 L1034.2,233.1 L1035.2,224.2 L1036.2,215.5 L1037.2,207.1 L1038.2,199.0 L1039.2,191.2 L1040.2,183.8 L1041.2,176.8 L1042.2,170.2 L1043.2,164.0 L1044.2,158.3 L1045.2,153.0 L1046.2,148.3 L1047.2,144.0 L1048.2,140.3 L1049.2,137.1 L1050.2,134.4 L1051.2,132.3 L1052.2,130.8 L1053.2,129.8 L1054.2,129.4 L1055.2,129.6 L1056.2,130.3 L1057.2,131.6 L1058.2,133.4 L1059.2,135.7 L1060.2,138.6 L1061.2,142.0 L1062.2,145.9 L1063.2,150.2 L1064.2,155.1 L1065.2,160.4 L1066.2,166.2 L1067.2,172.3 L1068.2,178.9 L1069.2,185.9 L1070.2,193.2 L1071.2,200.8 L1072.2,208.7 L1073.2,216.9 L1074.2,225.4 L1075.2,234.1 L1076.2,242.9 L1077.2,252.0 L1078.2,261.2 L1079.2,270.5 L1080.2,279.9 L1081.2,289.3 L1082.2,298.9 L1083.2,308.4 L1084.2,317.9 L1085.2,327.4 L1086.2,336.8 L1087.2,346.2 L1088.2,355.5 L1089.2,364.6 L1090.2,373.6 L1091.2,382.5 L1092.2,391.3 L1093.2,399.8 L1094.2,408.2 L1095.2,416.4 L1096.2,424.3 L1097.2,432.1 L1098.2,439.6 L1099.2,446.9 L1100.2,453.9 L1101.2,460.8 L1102.2,467.3 L1103.2,473.7 L1104.2,479.8 L1105.2,485.6 L1106.2,491.2 L1107.2,496.5 L1108.2,501.6 L1109.2,506.5 L1110.2,511.2 L1111.2,515.6 L1112.2,519.8 L1113.2,523.7 L1114.2,527.5 L1115.2,531.0 L1116.2,534.4 L1117.2,537.5 L1118.2,540.5 L1119.2,543.2 L1120.2,545.9 L1121.2,548.3 L1122.2,550.6 L1123.2,552.7 L1124.2,554.7 L1125.2,556.5 L1126.2,558.3 L1127.2,559.9 L1128.2,561.3 L1129.2,562.7 L1130.2,564.0 L1131.2,565.1 L1132.2,566.2 L1133.2,567.2 L1134.2,568.1 L1135.2,569.0 L1136.2,569.7 L1137.2,570.4 L1138.2,571.1 L1139.2,571.6 L1140.2,572.2 L1141.2,572.7 L1142.2,573.1 L1143.2,573.5 L1144.2,573.9 L1145.2,574.2" fill="none" stroke="#6a28a0" stroke-width="2.6" stroke-dasharray="4.6 2" stroke-dashoffset="0.8" stroke-opacity="0.28"/>
<path d="M991.2,566.1 L992.2,562.7 L993.2,559.0 L994.2,555.1 L995.2,551.0 L996.2,546.6 L997.2,542.1 L998.2,537.3 L999.2,532.2 L1000.2,527.0 L1001.2,521.4 L1002.2,515.6 L1003.2,509.6 L1004.2,503.3 L1005.2,496.7 L1006.2,489.9 L1007.2,482.9 L1008.2,475.6 L1009.2,468.0 L1010.2,460.2 L1011.2,452.2 L1012.2,443.9 L1013.2,435.4 L1014.2,426.7 L1015.2,417.8 L1016.2,408.7 L1017.2,399.4 L1018.2,390.0 L1019.2,380.4 L1020.2,370.7 L1021.2,360.9 L1022.2,351.0 L1023.2,341.0 L1024.2,330.9 L1025.2,320.9 L1026.2,310.8 L1027.2,300.8 L1028.2,290.8 L1029.2,280.8 L1030.2,271.0 L1031.2,261.3 L1032.2,251.7 L1033.2,242.3 L1034.2,233.1 L1035.2,224.2 L1036.2,215.5 L1037.2,207.1 L1038.2,199.0 L1039.2,191.2 L1040.2,183.8 L1041.2,176.8 L1042.2,170.2 L1043.2,164.0 L1044.2,158.3 L1045.2,153.0 L1046.2,148.3 L1047.2,144.0 L1048.2,140.3 L1049.2,137.1 L1050.2,134.4 L1051.2,132.3 L1052.2,130.8 L1053.2,129.8 L1054.2,129.4 L1055.2,129.6 L1056.2,130.3 L1057.2,131.6 L1058.2,133.4 L1059.2,135.7 L1060.2,138.6 L1061.2,142.0 L1062.2,145.9 L1063.2,150.2 L1064.2,155.1 L1065.2,160.4 L1066.2,166.2 L1067.2,172.3 L1068.2,178.9 L1069.2,185.9 L1070.2,193.2 L1071.2,200.8 L1072.2,208.7 L1073.2,216.9 L1074.2,225.4 L1075.2,234.1 L1076.2,242.9 L1077.2,252.0 L1078.2,261.2 L1079.2,270.5 L1080.2,279.9 L1081.2,289.3 L1082.2,298.9 L1083.2,308.4 L1084.2,317.9 L1085.2,327.4 L1086.2,336.8 L1087.2,346.2 L1088.2,355.5 L1089.2,364.6 L1090.2,373.6 L1091.2,382.5 L1092.2,391.3 L1093.2,399.8 L1094.2,408.2 L1095.2,416.4 L1096.2,424.3 L1097.2,432.1 L1098.2,439.6 L1099.2,446.9 L1100.2,453.9 L1101.2,460.8 L1102.2,467.3 L1103.2,473.7 L1104.2,479.8 L1105.2,485.6 L1106.2,491.2 L1107.2,496.5 L1108.2,501.6 L1109.2,506.5 L1110.2,511.2 L1111.2,515.6 L1112.2,519.8 L1113.2,523.7 L1114.2,527.5 L1115.2,531.0 L1116.2,534.4 L1117.2,537.5 L1118.2,540.5 L1119.2,543.2 L1120.2,545.9 L1121.2,548.3 L1122.2,550.6 L1123.2,552.7 L1124.2,554.7 L1125.2,556.5 L1126.2,558.3 L1127.2,559.9 L1128.2,561.3 L1129.2,562.7 L1130.2,564.0 L1131.2,565.1 L1132.2,566.2 L1133.2,567.2 L1134.2,568.1 L1135.2,569.0 L1136.2,569.7 L1137.2,570.4 L1138.2,571.1 L1139.2,571.6 L1140.2,572.2 L1141.2,572.7 L1142.2,573.1 L1143.2,573.5 L1144.2,573.9 L1145.2,574.2" fill="none" stroke="#6a28a0" stroke-width="2.2" stroke-dasharray="2.6 4" stroke-opacity="0.9"/>
<path d="M1018.5,575.4 L1019.5,572.5 L1020.5,569.5 L1021.5,566.2 L1022.5,562.8 L1023.5,559.2 L1024.5,555.3 L1025.5,551.3 L1026.5,547.0 L1027.5,542.5 L1028.5,537.7 L1029.5,532.7 L1030.5,527.5 L1031.5,522.0 L1032.5,516.3 L1033.5,510.3 L1034.5,504.1 L1035.5,497.6 L1036.5,490.9 L1037.5,483.9 L1038.5,476.7 L1039.5,469.2 L1040.5,461.5 L1041.5,453.6 L1042.5,445.4 L1043.5,437.0 L1044.5,428.4 L1045.5,419.6 L1046.5,410.6 L1047.5,401.4 L1048.5,392.1 L1049.5,382.6 L1050.5,373.0 L1051.5,363.3 L1052.5,353.5 L1053.5,343.6 L1054.5,333.7 L1055.5,323.7 L1056.5,313.8 L1057.5,303.8 L1058.5,294.0 L1059.5,284.1 L1060.5,274.4 L1061.5,264.8 L1062.5,255.3 L1063.5,246.0 L1064.5,237.0 L1065.5,228.1 L1066.5,219.5 L1067.5,211.2 L1068.5,203.2 L1069.5,195.5 L1070.5,188.2 L1071.5,181.3 L1072.5,174.7 L1073.5,168.6 L1074.5,163.0 L1075.5,157.8 L1076.5,153.1 L1077.5,148.9 L1078.5,145.2 L1079.5,142.0 L1080.5,139.4 L1081.5,137.3 L1082.5,135.8 L1083.5,134.8 L1084.5,134.4 L1085.5,134.6 L1086.5,135.3 L1087.5,136.5 L1088.5,138.3 L1089.5,140.6 L1090.5,143.5 L1091.5,146.8 L1092.5,150.7 L1093.5,155.0 L1094.5,159.8 L1095.5,165.1 L1096.5,170.8 L1097.5,176.9 L1098.5,183.4 L1099.5,190.2 L1100.5,197.4 L1101.5,205.0 L1102.5,212.8 L1103.5,220.9 L1104.5,229.3 L1105.5,237.9 L1106.5,246.7 L1107.5,255.6 L1108.5,264.7 L1109.5,273.9 L1110.5,283.2 L1111.5,292.6 L1112.5,302.0 L1113.5,311.4 L1114.5,320.8 L1115.5,330.2 L1116.5,339.5 L1117.5,348.8 L1118.5,357.9 L1119.5,367.0 L1120.5,375.9 L1121.5,384.7 L1122.5,393.3 L1123.5,401.8 L1124.5,410.1 L1125.5,418.2 L1126.5,426.0 L1127.5,433.7 L1128.5,441.1 L1129.5,448.3 L1130.5,455.3 L1131.5,462.1 L1132.5,468.6 L1133.5,474.8 L1134.5,480.8 L1135.5,486.6 L1136.5,492.1 L1137.5,497.4 L1138.5,502.5 L1139.5,507.3 L1140.5,511.9 L1141.5,516.3 L1142.5,520.4 L1143.5,524.3 L1144.5,528.0 L1145.5,531.5 L1146.5,534.8 L1147.5,537.9 L1148.5,540.9 L1149.5,543.6 L1150.5,546.2 L1151.5,548.6 L1152.5,550.9 L1153.5,553.0 L1154.5,554.9 L1155.5,556.8 L1156.5,558.5 L1157.5,560.1 L1158.5,561.5 L1159.5,562.9 L1160.5,564.1 L1161.5,565.3 L1162.5,566.3 L1163.5,567.3 L1164.5,568.2 L1165.5,569.0 L1166.5,569.8" fill="none" stroke="#1ba050" stroke-width="2.6" stroke-dasharray="4.6 2" stroke-dashoffset="0.8" stroke-opacity="0.28"/>
<path d="M1018.5,575.4 L1019.5,572.5 L1020.5,569.5 L1021.5,566.2 L1022.5,562.8 L1023.5,559.2 L1024.5,555.3 L1025.5,551.3 L1026.5,547.0 L1027.5,542.5 L1028.5,537.7 L1029.5,532.7 L1030.5,527.5 L1031.5,522.0 L1032.5,516.3 L1033.5,510.3 L1034.5,504.1 L1035.5,497.6 L1036.5,490.9 L1037.5,483.9 L1038.5,476.7 L1039.5,469.2 L1040.5,461.5 L1041.5,453.6 L1042.5,445.4 L1043.5,437.0 L1044.5,428.4 L1045.5,419.6 L1046.5,410.6 L1047.5,401.4 L1048.5,392.1 L1049.5,382.6 L1050.5,373.0 L1051.5,363.3 L1052.5,353.5 L1053.5,343.6 L1054.5,333.7 L1055.5,323.7 L1056.5,313.8 L1057.5,303.8 L1058.5,294.0 L1059.5,284.1 L1060.5,274.4 L1061.5,264.8 L1062.5,255.3 L1063.5,246.0 L1064.5,237.0 L1065.5,228.1 L1066.5,219.5 L1067.5,211.2 L1068.5,203.2 L1069.5,195.5 L1070.5,188.2 L1071.5,181.3 L1072.5,174.7 L1073.5,168.6 L1074.5,163.0 L1075.5,157.8 L1076.5,153.1 L1077.5,148.9 L1078.5,145.2 L1079.5,142.0 L1080.5,139.4 L1081.5,137.3 L1082.5,135.8 L1083.5,134.8 L1084.5,134.4 L1085.5,134.6 L1086.5,135.3 L1087.5,136.5 L1088.5,138.3 L1089.5,140.6 L1090.5,143.5 L1091.5,146.8 L1092.5,150.7 L1093.5,155.0 L1094.5,159.8 L1095.5,165.1 L1096.5,170.8 L1097.5,176.9 L1098.5,183.4 L1099.5,190.2 L1100.5,197.4 L1101.5,205.0 L1102.5,212.8 L1103.5,220.9 L1104.5,229.3 L1105.5,237.9 L1106.5,246.7 L1107.5,255.6 L1108.5,264.7 L1109.5,273.9 L1110.5,283.2 L1111.5,292.6 L1112.5,302.0 L1113.5,311.4 L1114.5,320.8 L1115.5,330.2 L1116.5,339.5 L1117.5,348.8 L1118.5,357.9 L1119.5,367.0 L1120.5,375.9 L1121.5,384.7 L1122.5,393.3 L1123.5,401.8 L1124.5,410.1 L1125.5,418.2 L1126.5,426.0 L1127.5,433.7 L1128.5,441.1 L1129.5,448.3 L1130.5,455.3 L1131.5,462.1 L1132.5,468.6 L1133.5,474.8 L1134.5,480.8 L1135.5,486.6 L1136.5,492.1 L1137.5,497.4 L1138.5,502.5 L1139.5,507.3 L1140.5,511.9 L1141.5,516.3 L1142.5,520.4 L1143.5,524.3 L1144.5,528.0 L1145.5,531.5 L1146.5,534.8 L1147.5,537.9 L1148.5,540.9 L1149.5,543.6 L1150.5,546.2 L1151.5,548.6 L1152.5,550.9 L1153.5,553.0 L1154.5,554.9 L1155.5,556.8 L1156.5,558.5 L1157.5,560.1 L1158.5,561.5 L1159.5,562.9 L1160.5,564.1 L1161.5,565.3 L1162.5,566.3 L1163.5,567.3 L1164.5,568.2 L1165.5,569.0 L1166.5,569.8" fill="none" stroke="#1ba050" stroke-width="2.2" stroke-dasharray="2.6 4" stroke-opacity="0.9"/>
<path d="M1035.7,572.8 L1036.7,569.8 L1037.7,566.5 L1038.7,563.1 L1039.7,559.5 L1040.7,555.7 L1041.7,551.6 L1042.7,547.3 L1043.7,542.8 L1044.7,538.1 L1045.7,533.1 L1046.7,527.9 L1047.7,522.4 L1048.7,516.7 L1049.7,510.8 L1050.7,504.5 L1051.7,498.1 L1052.7,491.3 L1053.7,484.4 L1054.7,477.1 L1055.7,469.7 L1056.7,461.9 L1057.7,454.0 L1058.7,445.8 L1059.7,437.4 L1060.7,428.8 L1061.7,420.0 L1062.7,411.0 L1063.7,401.8 L1064.7,392.5 L1065.7,383.0 L1066.7,373.4 L1067.7,363.6 L1068.7,353.8 L1069.7,343.9 L1070.7,334.0 L1071.7,324.0 L1072.7,314.0 L1073.7,304.0 L1074.7,294.1 L1075.7,284.2 L1076.7,274.5 L1077.7,264.8 L1078.7,255.3 L1079.7,246.0 L1080.7,236.9 L1081.7,228.0 L1082.7,219.3 L1083.7,210.9 L1084.7,202.9 L1085.7,195.1 L1086.7,187.8 L1087.7,180.8 L1088.7,174.2 L1089.7,168.0 L1090.7,162.3 L1091.7,157.0 L1092.7,152.3 L1093.7,148.0 L1094.7,144.2 L1095.7,141.0 L1096.7,138.3 L1097.7,136.2 L1098.7,134.6 L1099.7,133.6 L1100.7,133.1 L1101.7,133.2 L1102.7,133.9 L1103.7,135.1 L1104.7,136.8 L1105.7,139.1 L1106.7,141.9 L1107.7,145.2 L1108.7,149.0 L1109.7,153.3 L1110.7,158.1 L1111.7,163.3 L1112.7,169.0 L1113.7,175.1 L1114.7,181.5 L1115.7,188.4 L1116.7,195.6 L1117.7,203.1 L1118.7,211.0 L1119.7,219.1 L1120.7,227.4 L1121.7,236.0 L1122.7,244.8 L1123.7,253.8 L1124.7,262.9 L1125.7,272.1 L1126.7,281.4 L1127.7,290.8 L1128.7,300.2 L1129.7,309.7 L1130.7,319.1 L1131.7,328.5 L1132.7,337.9 L1133.7,347.2 L1134.7,356.4 L1135.7,365.5 L1136.7,374.4 L1137.7,383.3 L1138.7,391.9 L1139.7,400.4 L1140.7,408.8 L1141.7,416.9 L1142.7,424.8 L1143.7,432.5 L1144.7,440.0 L1145.7,447.2 L1146.7,454.3 L1147.7,461.1 L1148.7,467.6 L1149.7,473.9 L1150.7,480.0 L1151.7,485.8 L1152.7,491.4 L1153.7,496.7 L1154.7,501.8 L1155.7,506.6 L1156.7,511.3 L1157.7,515.6 L1158.7,519.8 L1159.7,523.8 L1160.7,527.5 L1161.7,531.1 L1162.7,534.4 L1163.7,537.5 L1164.7,540.5 L1165.7,543.3 L1166.7,545.9 L1167.7,548.3 L1168.7,550.6 L1169.7,552.7 L1170.7,554.7 L1171.7,556.5 L1172.7,558.3 L1173.7,559.8 L1174.7,561.3 L1175.7,562.7 L1176.7,564.0 L1177.7,565.1 L1178.7,566.2 L1179.7,567.2 L1180.7,568.1" fill="none" stroke="#ff10ff" stroke-width="2.6" stroke-dasharray="4.6 2" stroke-dashoffset="0.8" stroke-opacity="0.28"/>
<path d="M1035.7,572.8 L1036.7,569.8 L1037.7,566.5 L1038.7,563.1 L1039.7,559.5 L1040.7,555.7 L1041.7,551.6 L1042.7,547.3 L1043.7,542.8 L1044.7,538.1 L1045.7,533.1 L1046.7,527.9 L1047.7,522.4 L1048.7,516.7 L1049.7,510.8 L1050.7,504.5 L1051.7,498.1 L1052.7,491.3 L1053.7,484.4 L1054.7,477.1 L1055.7,469.7 L1056.7,461.9 L1057.7,454.0 L1058.7,445.8 L1059.7,437.4 L1060.7,428.8 L1061.7,420.0 L1062.7,411.0 L1063.7,401.8 L1064.7,392.5 L1065.7,383.0 L1066.7,373.4 L1067.7,363.6 L1068.7,353.8 L1069.7,343.9 L1070.7,334.0 L1071.7,324.0 L1072.7,314.0 L1073.7,304.0 L1074.7,294.1 L1075.7,284.2 L1076.7,274.5 L1077.7,264.8 L1078.7,255.3 L1079.7,246.0 L1080.7,236.9 L1081.7,228.0 L1082.7,219.3 L1083.7,210.9 L1084.7,202.9 L1085.7,195.1 L1086.7,187.8 L1087.7,180.8 L1088.7,174.2 L1089.7,168.0 L1090.7,162.3 L1091.7,157.0 L1092.7,152.3 L1093.7,148.0 L1094.7,144.2 L1095.7,141.0 L1096.7,138.3 L1097.7,136.2 L1098.7,134.6 L1099.7,133.6 L1100.7,133.1 L1101.7,133.2 L1102.7,133.9 L1103.7,135.1 L1104.7,136.8 L1105.7,139.1 L1106.7,141.9 L1107.7,145.2 L1108.7,149.0 L1109.7,153.3 L1110.7,158.1 L1111.7,163.3 L1112.7,169.0 L1113.7,175.1 L1114.7,181.5 L1115.7,188.4 L1116.7,195.6 L1117.7,203.1 L1118.7,211.0 L1119.7,219.1 L1120.7,227.4 L1121.7,236.0 L1122.7,244.8 L1123.7,253.8 L1124.7,262.9 L1125.7,272.1 L1126.7,281.4 L1127.7,290.8 L1128.7,300.2 L1129.7,309.7 L1130.7,319.1 L1131.7,328.5 L1132.7,337.9 L1133.7,347.2 L1134.7,356.4 L1135.7,365.5 L1136.7,374.4 L1137.7,383.3 L1138.7,391.9 L1139.7,400.4 L1140.7,408.8 L1141.7,416.9 L1142.7,424.8 L1143.7,432.5 L1144.7,440.0 L1145.7,447.2 L1146.7,454.3 L1147.7,461.1 L1148.7,467.6 L1149.7,473.9 L1150.7,480.0 L1151.7,485.8 L1152.7,491.4 L1153.7,496.7 L1154.7,501.8 L1155.7,506.6 L1156.7,511.3 L1157.7,515.6 L1158.7,519.8 L1159.7,523.8 L1160.7,527.5 L1161.7,531.1 L1162.7,534.4 L1163.7,537.5 L1164.7,540.5 L1165.7,543.3 L1166.7,545.9 L1167.7,548.3 L1168.7,550.6 L1169.7,552.7 L1170.7,554.7 L1171.7,556.5 L1172.7,558.3 L1173.7,559.8 L1174.7,561.3 L1175.7,562.7 L1176.7,564.0 L1177.7,565.1 L1178.7,566.2 L1179.7,567.2 L1180.7,568.1" fill="none" stroke="#ff10ff" stroke-width="2.2" stroke-dasharray="2.6 4" stroke-opacity="0.9"/>
<path d="M1059.3,574.7 L1060.3,570.0 L1061.3,565.0 L1062.3,559.8 L1063.3,554.3 L1064.3,548.6 L1065.3,542.6 L1066.3,536.3 L1067.3,529.8 L1068.3,523.0 L1069.3,515.9 L1070.3,508.5 L1071.3,500.9 L1072.3,493.1 L1073.3,484.9 L1074.3,476.6 L1075.3,467.9 L1076.3,459.1 L1077.3,450.0 L1078.3,440.7 L1079.3,431.2 L1080.3,421.5 L1081.3,411.6 L1082.3,401.6 L1083.3,391.4 L1084.3,381.2 L1085.3,370.8 L1086.3,360.3 L1087.3,349.7 L1088.3,339.2 L1089.3,328.6 L1090.3,318.0 L1091.3,307.5 L1092.3,297.0 L1093.3,286.6 L1094.3,276.4 L1095.3,266.3 L1096.3,256.3 L1097.3,246.6 L1098.3,237.1 L1099.3,227.9 L1100.3,219.0 L1101.3,210.3 L1102.3,202.1 L1103.3,194.2 L1104.3,186.7 L1105.3,179.6 L1106.3,173.0 L1107.3,166.8 L1108.3,161.1 L1109.3,156.0 L1110.3,151.3 L1111.3,147.3 L1112.3,143.7 L1113.3,140.8 L1114.3,138.4 L1115.3,136.6 L1116.3,135.4 L1117.3,134.8 L1118.3,134.8 L1119.3,135.3 L1120.3,136.4 L1121.3,138.0 L1122.3,140.2 L1123.3,142.9 L1124.3,146.1 L1125.3,149.8 L1126.3,153.9 L1127.3,158.6 L1128.3,163.7 L1129.3,169.3 L1130.3,175.3 L1131.3,181.6 L1132.3,188.4 L1133.3,195.5 L1134.3,202.9 L1135.3,210.7 L1136.3,218.7 L1137.3,227.0 L1138.3,235.5 L1139.3,244.2 L1140.3,253.1 L1141.3,262.2 L1142.3,271.3 L1143.3,280.6 L1144.3,289.9 L1145.3,299.3 L1146.3,308.7 L1147.3,318.1 L1148.3,327.5 L1149.3,336.9 L1150.3,346.1 L1151.3,355.3 L1152.3,364.4 L1153.3,373.4 L1154.3,382.2 L1155.3,390.9 L1156.3,399.4 L1157.3,407.7 L1158.3,415.9 L1159.3,423.8 L1160.3,431.5 L1161.3,439.0 L1162.3,446.3 L1163.3,453.3 L1164.3,460.1 L1165.3,466.7 L1166.3,473.0 L1167.3,479.1 L1168.3,485.0 L1169.3,490.6 L1170.3,495.9 L1171.3,501.1 L1172.3,505.9 L1173.3,510.6 L1174.3,515.0 L1175.3,519.2 L1176.3,523.2 L1177.3,527.0 L1178.3,530.5 L1179.3,533.9 L1180.3,537.1 L1181.3,540.0 L1182.3,542.8 L1183.3,545.5 L1184.3,547.9 L1185.3,550.2 L1186.3,552.4 L1187.3,554.4 L1188.3,556.3 L1189.3,558.0 L1190.3,559.6 L1191.3,561.1 L1192.3,562.5 L1193.3,563.8 L1194.3,564.9 L1195.3,566.0 L1196.3,567.0 L1197.3,568.0 L1198.3,568.8 L1199.3,569.6 L1200.3,570.3 L1201.3,571.0 L1202.3,571.5 L1203.3,572.1 L1204.3,572.6 L1205.3,573.0 L1206.3,573.4 L1207.3,573.8 L1208.3,574.1 L1209.3,574.4" fill="none" stroke="#111111" stroke-width="2.6" stroke-dasharray="4.6 2" stroke-dashoffset="0.8" stroke-opacity="0.28"/>
<path d="M1059.3,574.7 L1060.3,570.0 L1061.3,565.0 L1062.3,559.8 L1063.3,554.3 L1064.3,548.6 L1065.3,542.6 L1066.3,536.3 L1067.3,529.8 L1068.3,523.0 L1069.3,515.9 L1070.3,508.5 L1071.3,500.9 L1072.3,493.1 L1073.3,484.9 L1074.3,476.6 L1075.3,467.9 L1076.3,459.1 L1077.3,450.0 L1078.3,440.7 L1079.3,431.2 L1080.3,421.5 L1081.3,411.6 L1082.3,401.6 L1083.3,391.4 L1084.3,381.2 L1085.3,370.8 L1086.3,360.3 L1087.3,349.7 L1088.3,339.2 L1089.3,328.6 L1090.3,318.0 L1091.3,307.5 L1092.3,297.0 L1093.3,286.6 L1094.3,276.4 L1095.3,266.3 L1096.3,256.3 L1097.3,246.6 L1098.3,237.1 L1099.3,227.9 L1100.3,219.0 L1101.3,210.3 L1102.3,202.1 L1103.3,194.2 L1104.3,186.7 L1105.3,179.6 L1106.3,173.0 L1107.3,166.8 L1108.3,161.1 L1109.3,156.0 L1110.3,151.3 L1111.3,147.3 L1112.3,143.7 L1113.3,140.8 L1114.3,138.4 L1115.3,136.6 L1116.3,135.4 L1117.3,134.8 L1118.3,134.8 L1119.3,135.3 L1120.3,136.4 L1121.3,138.0 L1122.3,140.2 L1123.3,142.9 L1124.3,146.1 L1125.3,149.8 L1126.3,153.9 L1127.3,158.6 L1128.3,163.7 L1129.3,169.3 L1130.3,175.3 L1131.3,181.6 L1132.3,188.4 L1133.3,195.5 L1134.3,202.9 L1135.3,210.7 L1136.3,218.7 L1137.3,227.0 L1138.3,235.5 L1139.3,244.2 L1140.3,253.1 L1141.3,262.2 L1142.3,271.3 L1143.3,280.6 L1144.3,289.9 L1145.3,299.3 L1146.3,308.7 L1147.3,318.1 L1148.3,327.5 L1149.3,336.9 L1150.3,346.1 L1151.3,355.3 L1152.3,364.4 L1153.3,373.4 L1154.3,382.2 L1155.3,390.9 L1156.3,399.4 L1157.3,407.7 L1158.3,415.9 L1159.3,423.8 L1160.3,431.5 L1161.3,439.0 L1162.3,446.3 L1163.3,453.3 L1164.3,460.1 L1165.3,466.7 L1166.3,473.0 L1167.3,479.1 L1168.3,485.0 L1169.3,490.6 L1170.3,495.9 L1171.3,501.1 L1172.3,505.9 L1173.3,510.6 L1174.3,515.0 L1175.3,519.2 L1176.3,523.2 L1177.3,527.0 L1178.3,530.5 L1179.3,533.9 L1180.3,537.1 L1181.3,540.0 L1182.3,542.8 L1183.3,545.5 L1184.3,547.9 L1185.3,550.2 L1186.3,552.4 L1187.3,554.4 L1188.3,556.3 L1189.3,558.0 L1190.3,559.6 L1191.3,561.1 L1192.3,562.5 L1193.3,563.8 L1194.3,564.9 L1195.3,566.0 L1196.3,567.0 L1197.3,568.0 L1198.3,568.8 L1199.3,569.6 L1200.3,570.3 L1201.3,571.0 L1202.3,571.5 L1203.3,572.1 L1204.3,572.6 L1205.3,573.0 L1206.3,573.4 L1207.3,573.8 L1208.3,574.1 L1209.3,574.4" fill="none" stroke="#111111" stroke-width="2.2" stroke-dasharray="2.6 4" stroke-opacity="0.9"/>
<path d="M1070.7,577.0 L1071.7,574.8 L1072.7,572.4 L1073.7,569.9 L1074.7,567.1 L1075.7,564.3 L1076.7,561.2 L1077.7,557.9 L1078.7,554.5 L1079.7,550.8 L1080.7,546.9 L1081.7,542.8 L1082.7,538.5 L1083.7,534.0 L1084.7,529.2 L1085.7,524.2 L1086.7,519.0 L1087.7,513.5 L1088.7,507.8 L1089.7,501.8 L1090.7,495.6 L1091.7,489.1 L1092.7,482.4 L1093.7,475.5 L1094.7,468.3 L1095.7,460.8 L1096.7,453.1 L1097.7,445.3 L1098.7,437.1 L1099.7,428.8 L1100.7,420.3 L1101.7,411.6 L1102.7,402.7 L1103.7,393.6 L1104.7,384.4 L1105.7,375.1 L1106.7,365.6 L1107.7,356.1 L1108.7,346.4 L1109.7,336.7 L1110.7,327.0 L1111.7,317.2 L1112.7,307.5 L1113.7,297.8 L1114.7,288.1 L1115.7,278.5 L1116.7,269.1 L1117.7,259.7 L1118.7,250.6 L1119.7,241.6 L1120.7,232.8 L1121.7,224.2 L1122.7,215.9 L1123.7,207.9 L1124.7,200.3 L1125.7,192.9 L1126.7,185.9 L1127.7,179.3 L1128.7,173.1 L1129.7,167.4 L1130.7,162.1 L1131.7,157.2 L1132.7,152.8 L1133.7,149.0 L1134.7,145.6 L1135.7,142.8 L1136.7,140.5 L1137.7,138.7 L1138.7,137.5 L1139.7,136.8 L1140.7,136.7 L1141.7,137.2 L1142.7,138.1 L1143.7,139.6 L1144.7,141.7 L1145.7,144.2 L1146.7,147.3 L1147.7,150.9 L1148.7,155.0 L1149.7,159.5 L1150.7,164.5 L1151.7,170.0 L1152.7,175.9 L1153.7,182.1 L1154.7,188.8 L1155.7,195.8 L1156.7,203.1 L1157.7,210.8 L1158.7,218.7 L1159.7,226.9 L1160.7,235.4 L1161.7,244.0 L1162.7,252.8 L1163.7,261.8 L1164.7,270.9 L1165.7,280.1 L1166.7,289.4 L1167.7,298.7 L1168.7,308.1 L1169.7,317.4 L1170.7,326.8 L1171.7,336.1 L1172.7,345.3 L1173.7,354.5 L1174.7,363.6 L1175.7,372.5 L1176.7,381.4 L1177.7,390.0 L1178.7,398.5 L1179.7,406.8 L1180.7,415.0 L1181.7,422.9 L1182.7,430.6 L1183.7,438.2 L1184.7,445.4 L1185.7,452.5 L1186.7,459.3 L1187.7,465.9 L1188.7,472.3 L1189.7,478.4 L1190.7,484.2 L1191.7,489.9 L1192.7,495.2 L1193.7,500.4 L1194.7,505.3 L1195.7,510.0 L1196.7,514.4 L1197.7,518.7 L1198.7,522.7 L1199.7,526.5 L1200.7,530.0 L1201.7,533.4 L1202.7,536.6 L1203.7,539.6 L1204.7,542.5 L1205.7,545.1 L1206.7,547.6 L1207.7,549.9 L1208.7,552.1 L1209.7,554.1 L1210.7,556.0 L1211.7,557.7 L1212.7,559.4 L1213.7,560.9 L1214.7,562.3 L1215.7,563.6 L1216.7,564.8 L1217.7,565.9 L1218.7,566.9 L1219.7,567.8 L1220.7,568.7 L1221.7,569.5 L1222.7,570.2 L1223.7,570.9 L1224.7,571.5 L1225.7,572.0 L1226.7,572.5 L1227.7,573.0 L1228.7,573.4 L1229.7,573.8 L1230.7,574.1 L1231.7,574.4 L1232.7,574.7 L1233.7,574.9 L1234.7,575.2 L1235.7,575.4" fill="none" stroke="#10e010" stroke-width="2.6" stroke-dasharray="4.6 2" stroke-dashoffset="0.8" stroke-opacity="0.28"/>
<path d="M1070.7,577.0 L1071.7,574.8 L1072.7,572.4 L1073.7,569.9 L1074.7,567.1 L1075.7,564.3 L1076.7,561.2 L1077.7,557.9 L1078.7,554.5 L1079.7,550.8 L1080.7,546.9 L1081.7,542.8 L1082.7,538.5 L1083.7,534.0 L1084.7,529.2 L1085.7,524.2 L1086.7,519.0 L1087.7,513.5 L1088.7,507.8 L1089.7,501.8 L1090.7,495.6 L1091.7,489.1 L1092.7,482.4 L1093.7,475.5 L1094.7,468.3 L1095.7,460.8 L1096.7,453.1 L1097.7,445.3 L1098.7,437.1 L1099.7,428.8 L1100.7,420.3 L1101.7,411.6 L1102.7,402.7 L1103.7,393.6 L1104.7,384.4 L1105.7,375.1 L1106.7,365.6 L1107.7,356.1 L1108.7,346.4 L1109.7,336.7 L1110.7,327.0 L1111.7,317.2 L1112.7,307.5 L1113.7,297.8 L1114.7,288.1 L1115.7,278.5 L1116.7,269.1 L1117.7,259.7 L1118.7,250.6 L1119.7,241.6 L1120.7,232.8 L1121.7,224.2 L1122.7,215.9 L1123.7,207.9 L1124.7,200.3 L1125.7,192.9 L1126.7,185.9 L1127.7,179.3 L1128.7,173.1 L1129.7,167.4 L1130.7,162.1 L1131.7,157.2 L1132.7,152.8 L1133.7,149.0 L1134.7,145.6 L1135.7,142.8 L1136.7,140.5 L1137.7,138.7 L1138.7,137.5 L1139.7,136.8 L1140.7,136.7 L1141.7,137.2 L1142.7,138.1 L1143.7,139.6 L1144.7,141.7 L1145.7,144.2 L1146.7,147.3 L1147.7,150.9 L1148.7,155.0 L1149.7,159.5 L1150.7,164.5 L1151.7,170.0 L1152.7,175.9 L1153.7,182.1 L1154.7,188.8 L1155.7,195.8 L1156.7,203.1 L1157.7,210.8 L1158.7,218.7 L1159.7,226.9 L1160.7,235.4 L1161.7,244.0 L1162.7,252.8 L1163.7,261.8 L1164.7,270.9 L1165.7,280.1 L1166.7,289.4 L1167.7,298.7 L1168.7,308.1 L1169.7,317.4 L1170.7,326.8 L1171.7,336.1 L1172.7,345.3 L1173.7,354.5 L1174.7,363.6 L1175.7,372.5 L1176.7,381.4 L1177.7,390.0 L1178.7,398.5 L1179.7,406.8 L1180.7,415.0 L1181.7,422.9 L1182.7,430.6 L1183.7,438.2 L1184.7,445.4 L1185.7,452.5 L1186.7,459.3 L1187.7,465.9 L1188.7,472.3 L1189.7,478.4 L1190.7,484.2 L1191.7,489.9 L1192.7,495.2 L1193.7,500.4 L1194.7,505.3 L1195.7,510.0 L1196.7,514.4 L1197.7,518.7 L1198.7,522.7 L1199.7,526.5 L1200.7,530.0 L1201.7,533.4 L1202.7,536.6 L1203.7,539.6 L1204.7,542.5 L1205.7,545.1 L1206.7,547.6 L1207.7,549.9 L1208.7,552.1 L1209.7,554.1 L1210.7,556.0 L1211.7,557.7 L1212.7,559.4 L1213.7,560.9 L1214.7,562.3 L1215.7,563.6 L1216.7,564.8 L1217.7,565.9 L1218.7,566.9 L1219.7,567.8 L1220.7,568.7 L1221.7,569.5 L1222.7,570.2 L1223.7,570.9 L1224.7,571.5 L1225.7,572.0 L1226.7,572.5 L1227.7,573.0 L1228.7,573.4 L1229.7,573.8 L1230.7,574.1 L1231.7,574.4 L1232.7,574.7 L1233.7,574.9 L1234.7,575.2 L1235.7,575.4" fill="none" stroke="#10e010" stroke-width="2.2" stroke-dasharray="2.6 4" stroke-opacity="0.9"/>
<path d="M1075.6,577.0 L1076.6,576.2 L1077.6,575.4 L1078.6,574.5 L1079.6,573.5 L1080.6,572.4 L1081.6,571.2 L1082.6,569.9 L1083.6,568.5 L1084.6,567.0 L1085.6,565.4 L1086.6,563.7 L1087.6,561.8 L1088.6,559.7 L1089.6,557.5 L1090.6,555.2 L1091.6,552.7 L1092.6,550.0 L1093.6,547.2 L1094.6,544.1 L1095.6,540.9 L1096.6,537.4 L1097.6,533.8 L1098.6,529.9 L1099.6,525.8 L1100.6,521.5 L1101.6,516.9 L1102.6,512.1 L1103.6,507.0 L1104.6,501.8 L1105.6,496.2 L1106.6,490.4 L1107.6,484.3 L1108.6,478.0 L1109.6,471.5 L1110.6,464.6 L1111.6,457.6 L1112.6,450.2 L1113.6,442.7 L1114.6,434.9 L1115.6,426.8 L1116.6,418.6 L1117.6,410.1 L1118.6,401.4 L1119.6,392.6 L1120.6,383.5 L1121.6,374.4 L1122.6,365.0 L1123.6,355.6 L1124.6,346.0 L1125.6,336.4 L1126.6,326.7 L1127.6,317.0 L1128.6,307.2 L1129.6,297.5 L1130.6,287.8 L1131.6,278.1 L1132.6,268.6 L1133.6,259.1 L1134.6,249.9 L1135.6,240.7 L1136.6,231.8 L1137.6,223.1 L1138.6,214.7 L1139.6,206.5 L1140.6,198.7 L1141.6,191.2 L1142.6,184.1 L1143.6,177.3 L1144.6,171.0 L1145.6,165.1 L1146.6,159.7 L1147.6,154.7 L1148.6,150.3 L1149.6,146.3 L1150.6,142.9 L1151.6,140.0 L1152.6,137.7 L1153.6,135.9 L1154.6,134.7 L1155.6,134.1 L1156.6,134.0 L1157.6,134.5 L1158.6,135.6 L1159.6,137.1 L1160.6,139.2 L1161.6,141.9 L1162.6,145.0 L1163.6,148.7 L1164.6,152.8 L1165.6,157.5 L1166.6,162.5 L1167.6,168.1 L1168.6,174.0 L1169.6,180.4 L1170.6,187.1 L1171.6,194.2 L1172.6,201.6 L1173.6,209.3 L1174.6,217.3 L1175.6,225.6 L1176.6,234.1 L1177.6,242.8 L1178.6,251.7 L1179.6,260.8 L1180.6,269.9 L1181.6,279.2 L1182.6,288.5 L1183.6,297.9 L1184.6,307.4 L1185.6,316.8 L1186.6,326.2 L1187.6,335.6 L1188.6,344.9 L1189.6,354.1 L1190.6,363.2 L1191.6,372.2 L1192.6,381.0 L1193.6,389.7 L1194.6,398.3 L1195.6,406.6 L1196.6,414.8 L1197.6,422.8 L1198.6,430.5 L1199.6,438.1 L1200.6,445.4 L1201.6,452.4 L1202.6,459.3 L1203.6,465.9 L1204.6,472.3 L1205.6,478.4 L1206.6,484.2 L1207.6,489.9 L1208.6,495.3 L1209.6,500.4 L1210.6,505.3 L1211.6,510.0 L1212.6,514.5 L1213.6,518.7 L1214.6,522.7 L1215.6,526.5 L1216.6,530.1 L1217.6,533.5 L1218.6,536.7 L1219.6,539.7 L1220.6,542.5 L1221.6,545.2 L1222.6,547.6 L1223.6,550.0 L1224.6,552.1 L1225.6,554.2 L1226.6,556.0 L1227.6,557.8 L1228.6,559.4 L1229.6,560.9 L1230.6,562.3 L1231.6,563.6 L1232.6,564.8 L1233.6,565.9 L1234.6,566.9 L1235.6,567.9 L1236.6,568.7 L1237.6,569.5 L1238.6,570.2 L1239.6,570.9 L1240.6,571.5 L1241.6,572.0 L1242.6,572.5 L1243.6,573.0 L1244.6,573.4 L1245.6,573.8 L1246.6,574.1 L1247.6,574.4 L1248.6,574.7 L1249.6,574.9 L1250.6,575.2 L1251.6,575.4" fill="none" stroke="#1818f0" stroke-width="2.6" stroke-dasharray="4.6 2" stroke-dashoffset="0.8" stroke-opacity="0.28"/>
<path d="M1075.6,577.0 L1076.6,576.2 L1077.6,575.4 L1078.6,574.5 L1079.6,573.5 L1080.6,572.4 L1081.6,571.2 L1082.6,569.9 L1083.6,568.5 L1084.6,567.0 L1085.6,565.4 L1086.6,563.7 L1087.6,561.8 L1088.6,559.7 L1089.6,557.5 L1090.6,555.2 L1091.6,552.7 L1092.6,550.0 L1093.6,547.2 L1094.6,544.1 L1095.6,540.9 L1096.6,537.4 L1097.6,533.8 L1098.6,529.9 L1099.6,525.8 L1100.6,521.5 L1101.6,516.9 L1102.6,512.1 L1103.6,507.0 L1104.6,501.8 L1105.6,496.2 L1106.6,490.4 L1107.6,484.3 L1108.6,478.0 L1109.6,471.5 L1110.6,464.6 L1111.6,457.6 L1112.6,450.2 L1113.6,442.7 L1114.6,434.9 L1115.6,426.8 L1116.6,418.6 L1117.6,410.1 L1118.6,401.4 L1119.6,392.6 L1120.6,383.5 L1121.6,374.4 L1122.6,365.0 L1123.6,355.6 L1124.6,346.0 L1125.6,336.4 L1126.6,326.7 L1127.6,317.0 L1128.6,307.2 L1129.6,297.5 L1130.6,287.8 L1131.6,278.1 L1132.6,268.6 L1133.6,259.1 L1134.6,249.9 L1135.6,240.7 L1136.6,231.8 L1137.6,223.1 L1138.6,214.7 L1139.6,206.5 L1140.6,198.7 L1141.6,191.2 L1142.6,184.1 L1143.6,177.3 L1144.6,171.0 L1145.6,165.1 L1146.6,159.7 L1147.6,154.7 L1148.6,150.3 L1149.6,146.3 L1150.6,142.9 L1151.6,140.0 L1152.6,137.7 L1153.6,135.9 L1154.6,134.7 L1155.6,134.1 L1156.6,134.0 L1157.6,134.5 L1158.6,135.6 L1159.6,137.1 L1160.6,139.2 L1161.6,141.9 L1162.6,145.0 L1163.6,148.7 L1164.6,152.8 L1165.6,157.5 L1166.6,162.5 L1167.6,168.1 L1168.6,174.0 L1169.6,180.4 L1170.6,187.1 L1171.6,194.2 L1172.6,201.6 L1173.6,209.3 L1174.6,217.3 L1175.6,225.6 L1176.6,234.1 L1177.6,242.8 L1178.6,251.7 L1179.6,260.8 L1180.6,269.9 L1181.6,279.2 L1182.6,288.5 L1183.6,297.9 L1184.6,307.4 L1185.6,316.8 L1186.6,326.2 L1187.6,335.6 L1188.6,344.9 L1189.6,354.1 L1190.6,363.2 L1191.6,372.2 L1192.6,381.0 L1193.6,389.7 L1194.6,398.3 L1195.6,406.6 L1196.6,414.8 L1197.6,422.8 L1198.6,430.5 L1199.6,438.1 L1200.6,445.4 L1201.6,452.4 L1202.6,459.3 L1203.6,465.9 L1204.6,472.3 L1205.6,478.4 L1206.6,484.2 L1207.6,489.9 L1208.6,495.3 L1209.6,500.4 L1210.6,505.3 L1211.6,510.0 L1212.6,514.5 L1213.6,518.7 L1214.6,522.7 L1215.6,526.5 L1216.6,530.1 L1217.6,533.5 L1218.6,536.7 L1219.6,539.7 L1220.6,542.5 L1221.6,545.2 L1222.6,547.6 L1223.6,550.0 L1224.6,552.1 L1225.6,554.2 L1226.6,556.0 L1227.6,557.8 L1228.6,559.4 L1229.6,560.9 L1230.6,562.3 L1231.6,563.6 L1232.6,564.8 L1233.6,565.9 L1234.6,566.9 L1235.6,567.9 L1236.6,568.7 L1237.6,569.5 L1238.6,570.2 L1239.6,570.9 L1240.6,571.5 L1241.6,572.0 L1242.6,572.5 L1243.6,573.0 L1244.6,573.4 L1245.6,573.8 L1246.6,574.1 L1247.6,574.4 L1248.6,574.7 L1249.6,574.9 L1250.6,575.2 L1251.6,575.4" fill="none" stroke="#1818f0" stroke-width="2.2" stroke-dasharray="2.6 4" stroke-opacity="0.9"/>
<path d="M1108.2,577.0 L1109.2,574.7 L1110.2,572.1 L1111.2,569.5 L1112.2,566.6 L1113.2,563.6 L1114.2,560.4 L1115.2,557.0 L1116.2,553.3 L1117.2,549.5 L1118.2,545.5 L1119.2,541.2 L1120.2,536.7 L1121.2,532.0 L1122.2,527.0 L1123.2,521.8 L1124.2,516.4 L1125.2,510.7 L1126.2,504.8 L1127.2,498.6 L1128.2,492.2 L1129.2,485.5 L1130.2,478.6 L1131.2,471.4 L1132.2,464.0 L1133.2,456.3 L1134.2,448.5 L1135.2,440.4 L1136.2,432.1 L1137.2,423.6 L1138.2,414.8 L1139.2,406.0 L1140.2,396.9 L1141.2,387.7 L1142.2,378.3 L1143.2,368.8 L1144.2,359.3 L1145.2,349.6 L1146.2,339.9 L1147.2,330.1 L1148.2,320.3 L1149.2,310.5 L1150.2,300.7 L1151.2,291.0 L1152.2,281.3 L1153.2,271.8 L1154.2,262.3 L1155.2,253.0 L1156.2,243.9 L1157.2,235.0 L1158.2,226.4 L1159.2,217.9 L1160.2,209.8 L1161.2,202.0 L1162.2,194.5 L1163.2,187.4 L1164.2,180.6 L1165.2,174.3 L1166.2,168.3 L1167.2,162.9 L1168.2,157.8 L1169.2,153.3 L1170.2,149.3 L1171.2,145.7 L1172.2,142.7 L1173.2,140.2 L1174.2,138.3 L1175.2,136.9 L1176.2,136.1 L1177.2,135.8 L1178.2,136.1 L1179.2,136.9 L1180.2,138.2 L1181.2,140.1 L1182.2,142.5 L1183.2,145.5 L1184.2,148.9 L1185.2,152.8 L1186.2,157.3 L1187.2,162.1 L1188.2,167.5 L1189.2,173.2 L1190.2,179.4 L1191.2,185.9 L1192.2,192.9 L1193.2,200.1 L1194.2,207.7 L1195.2,215.6 L1196.2,223.7 L1197.2,232.1 L1198.2,240.7 L1199.2,249.5 L1200.2,258.4 L1201.2,267.5 L1202.2,276.7 L1203.2,286.0 L1204.2,295.3 L1205.2,304.7 L1206.2,314.1 L1207.2,323.5 L1208.2,332.8 L1209.2,342.1 L1210.2,351.3 L1211.2,360.4 L1212.2,369.4 L1213.2,378.3 L1214.2,387.0 L1215.2,395.6 L1216.2,404.0 L1217.2,412.2 L1218.2,420.2 L1219.2,428.0 L1220.2,435.6 L1221.2,443.0 L1222.2,450.2 L1223.2,457.1 L1224.2,463.7 L1225.2,470.2 L1226.2,476.4 L1227.2,482.3 L1228.2,488.0 L1229.2,493.5 L1230.2,498.7 L1231.2,503.7 L1232.2,508.5 L1233.2,513.0 L1234.2,517.3 L1235.2,521.4 L1236.2,525.2 L1237.2,528.9 L1238.2,532.3 L1239.2,535.6 L1240.2,538.7 L1241.2,541.6 L1242.2,544.3 L1243.2,546.8 L1244.2,549.2 L1245.2,551.4 L1246.2,553.5 L1247.2,555.4 L1248.2,557.2 L1249.2,558.9 L1250.2,560.4 L1251.2,561.8 L1252.2,563.2 L1253.2,564.4 L1254.2,565.5 L1255.2,566.6 L1256.2,567.5 L1257.2,568.4 L1258.2,569.2 L1259.2,570.0 L1260.2,570.6 L1261.2,571.3 L1262.2,571.8 L1263.2,572.4 L1264.2,572.8 L1265.2,573.2 L1266.2,573.6 L1267.2,574.0 L1268.2,574.3 L1269.2,574.6 L1270.2,574.9" fill="none" stroke="#c01818" stroke-width="2.6" stroke-dasharray="4.6 2" stroke-dashoffset="0.8" stroke-opacity="0.28"/>
<path d="M1108.2,577.0 L1109.2,574.7 L1110.2,572.1 L1111.2,569.5 L1112.2,566.6 L1113.2,563.6 L1114.2,560.4 L1115.2,557.0 L1116.2,553.3 L1117.2,549.5 L1118.2,545.5 L1119.2,541.2 L1120.2,536.7 L1121.2,532.0 L1122.2,527.0 L1123.2,521.8 L1124.2,516.4 L1125.2,510.7 L1126.2,504.8 L1127.2,498.6 L1128.2,492.2 L1129.2,485.5 L1130.2,478.6 L1131.2,471.4 L1132.2,464.0 L1133.2,456.3 L1134.2,448.5 L1135.2,440.4 L1136.2,432.1 L1137.2,423.6 L1138.2,414.8 L1139.2,406.0 L1140.2,396.9 L1141.2,387.7 L1142.2,378.3 L1143.2,368.8 L1144.2,359.3 L1145.2,349.6 L1146.2,339.9 L1147.2,330.1 L1148.2,320.3 L1149.2,310.5 L1150.2,300.7 L1151.2,291.0 L1152.2,281.3 L1153.2,271.8 L1154.2,262.3 L1155.2,253.0 L1156.2,243.9 L1157.2,235.0 L1158.2,226.4 L1159.2,217.9 L1160.2,209.8 L1161.2,202.0 L1162.2,194.5 L1163.2,187.4 L1164.2,180.6 L1165.2,174.3 L1166.2,168.3 L1167.2,162.9 L1168.2,157.8 L1169.2,153.3 L1170.2,149.3 L1171.2,145.7 L1172.2,142.7 L1173.2,140.2 L1174.2,138.3 L1175.2,136.9 L1176.2,136.1 L1177.2,135.8 L1178.2,136.1 L1179.2,136.9 L1180.2,138.2 L1181.2,140.1 L1182.2,142.5 L1183.2,145.5 L1184.2,148.9 L1185.2,152.8 L1186.2,157.3 L1187.2,162.1 L1188.2,167.5 L1189.2,173.2 L1190.2,179.4 L1191.2,185.9 L1192.2,192.9 L1193.2,200.1 L1194.2,207.7 L1195.2,215.6 L1196.2,223.7 L1197.2,232.1 L1198.2,240.7 L1199.2,249.5 L1200.2,258.4 L1201.2,267.5 L1202.2,276.7 L1203.2,286.0 L1204.2,295.3 L1205.2,304.7 L1206.2,314.1 L1207.2,323.5 L1208.2,332.8 L1209.2,342.1 L1210.2,351.3 L1211.2,360.4 L1212.2,369.4 L1213.2,378.3 L1214.2,387.0 L1215.2,395.6 L1216.2,404.0 L1217.2,412.2 L1218.2,420.2 L1219.2,428.0 L1220.2,435.6 L1221.2,443.0 L1222.2,450.2 L1223.2,457.1 L1224.2,463.7 L1225.2,470.2 L1226.2,476.4 L1227.2,482.3 L1228.2,488.0 L1229.2,493.5 L1230.2,498.7 L1231.2,503.7 L1232.2,508.5 L1233.2,513.0 L1234.2,517.3 L1235.2,521.4 L1236.2,525.2 L1237.2,528.9 L1238.2,532.3 L1239.2,535.6 L1240.2,538.7 L1241.2,541.6 L1242.2,544.3 L1243.2,546.8 L1244.2,549.2 L1245.2,551.4 L1246.2,553.5 L1247.2,555.4 L1248.2,557.2 L1249.2,558.9 L1250.2,560.4 L1251.2,561.8 L1252.2,563.2 L1253.2,564.4 L1254.2,565.5 L1255.2,566.6 L1256.2,567.5 L1257.2,568.4 L1258.2,569.2 L1259.2,570.0 L1260.2,570.6 L1261.2,571.3 L1262.2,571.8 L1263.2,572.4 L1264.2,572.8 L1265.2,573.2 L1266.2,573.6 L1267.2,574.0 L1268.2,574.3 L1269.2,574.6 L1270.2,574.9" fill="none" stroke="#c01818" stroke-width="2.2" stroke-dasharray="2.6 4" stroke-opacity="0.9"/>
<text transform="translate(27.30,625.18) rotate(-90) scale(1.3909,1)" font-size="35.08" font-weight="bold" fill="#0a0a28" class="tv">Normalized PL intensity (a.u)</text>
<text transform="translate(49.18,52.05) scale(0.7802,1)" font-size="45.22" font-weight="bold" fill="#000" class="th" letter-spacing="2.26" >1.2</text>
<text transform="translate(50.01,140.54) scale(0.8083,1)" font-size="46.27" font-weight="bold" fill="#000" class="th" letter-spacing="2.31" >1.0</text>
<text transform="translate(51.56,232.54) scale(0.7894,1)" font-size="45.52" font-weight="bold" fill="#000" class="th" letter-spacing="2.28" >0.8</text>
<text transform="translate(52.21,322.76) scale(0.7887,1)" font-size="44.18" font-weight="bold" fill="#000" class="th" letter-spacing="2.21" >0.6</text>
<text transform="translate(53.62,415.46) scale(0.7791,1)" font-size="44.18" font-weight="bold" fill="#000" class="th" letter-spacing="2.21" >0.4</text>
<text transform="translate(54.22,506.16) scale(0.7780,1)" font-size="44.33" font-weight="bold" fill="#000" class="th" letter-spacing="2.22" >0.2</text>
<text transform="translate(54.22,588.96) scale(0.7780,1)" font-size="44.33" font-weight="bold" fill="#000" class="th" letter-spacing="2.22" >0.0</text>
<text transform="translate(86.44,634.24) scale(0.8009,1)" font-size="45.67" font-weight="bold" fill="#000" class="th" letter-spacing="2.28" >380</text>
<text transform="translate(218.54,631.35) scale(0.7939,1)" font-size="44.78" font-weight="bold" fill="#000" class="th" letter-spacing="2.24" >400</text>
<text transform="translate(354.75,634.25) scale(0.7729,1)" font-size="45.07" font-weight="bold" fill="#000" class="th" letter-spacing="2.25" >420</text>
<text transform="translate(487.05,634.24) scale(0.7685,1)" font-size="45.67" font-weight="bold" fill="#000" class="th" letter-spacing="2.28" >440</text>
<text transform="translate(620.95,629.74) scale(0.7674,1)" font-size="45.82" font-weight="bold" fill="#000" class="th" letter-spacing="2.29" >460</text>
<text transform="translate(228.38,683.50) scale(0.7328,1)" font-size="44.35" font-weight="bold" fill="#000" class="th" letter-spacing="2.22" >Wavelength (nm)</text>
<text transform="translate(123.56,81.86) scale(0.7313,1)" font-size="45.89" font-weight="bold" fill="#000" class="th" letter-spacing="2.29" >(a)</text>
<text transform="translate(364.92,78.73) scale(0.7147,1)" font-size="47.01" font-weight="bold" fill="#000" class="th" letter-spacing="2.35" >Cz-SBDPI</text>
<text transform="translate(539.10,75.35) scale(0.7096,1)" font-size="35.35" font-weight="bold" fill="#000" class="th" letter-spacing="1.77" >in different</text>
<text transform="translate(540.98,106.18) scale(0.8541,1)" font-size="32.14" font-weight="bold" fill="#000" class="th" letter-spacing="1.61" >solvents</text>
<text transform="translate(313.44,122.01) scale(0.6858,1)" font-size="39.39" font-weight="bold" fill="#000" class="th" letter-spacing="1.97" >15 nm</text>
<line x1="263.10" y1="131.20" x2="435.40" y2="131.20" stroke="#000" stroke-width="2.8" />
<rect x="520.10" y="135.10" width="11.20" height="7.80" fill="#ed1c24"/>
<text transform="translate(532.85,152.72) scale(0.7290,1)" font-size="38.03" font-weight="bold" fill="#ed1c24" class="th" letter-spacing="1.90" style="stroke:none">Hexane</text>
<rect x="520.00" y="176.70" width="9.40" height="6.90" fill="#ffc90e"/>
<text transform="translate(534.36,188.64) scale(0.7538,1)" font-size="35.63" font-weight="bold" fill="#ffc90e" class="th" letter-spacing="1.78" style="stroke:none">Dioxane</text>
<rect x="520.00" y="214.90" width="9.70" height="8.00" fill="#a349a4"/>
<rect x="520.50" y="250.60" width="8.80" height="7.10" fill="#22b14c"/>
<text transform="translate(535.44,265.91) scale(0.7173,1)" font-size="38.79" font-weight="bold" fill="#22b14c" class="th" letter-spacing="1.94" style="stroke:none">Benzene</text>
<rect x="520.50" y="289.80" width="8.80" height="6.90" fill="#ff00ff"/>
<text transform="translate(533.73,307.03) scale(0.6900,1)" font-size="36.76" font-weight="bold" fill="#ff00ff" class="th" letter-spacing="1.84" style="stroke:none">Chloroform</text>
<rect x="520.10" y="339.00" width="11.60" height="7.70" fill="#000000"/>
<text transform="translate(538.98,351.00) scale(0.7056,1)" font-size="36.67" font-weight="bold" fill="#000000" class="th" letter-spacing="1.83" style="stroke:none">Ethylacetate</text>
<rect x="520.00" y="382.20" width="11.50" height="8.00" fill="#00f000"/>
<text transform="translate(542.34,395.70) scale(0.6675,1)" font-size="38.92" font-weight="bold" fill="#00f000" class="th" letter-spacing="1.95" style="stroke:none">THF</text>
<rect x="521.90" y="418.50" width="11.30" height="7.40" fill="#3f48cc"/>
<text transform="translate(542.03,433.23) scale(0.7814,1)" font-size="36.72" font-weight="bold" fill="#3f48cc" class="th" letter-spacing="1.84" style="stroke:none">DCM</text>
<rect x="521.90" y="459.90" width="9.40" height="7.30" fill="#cc0000"/>
<text transform="translate(541.14,471.44) scale(0.7267,1)" font-size="35.77" font-weight="bold" fill="#cc0000" class="th" letter-spacing="1.79" style="stroke:none">Acetonitrile</text>
<rect x="533.20" y="382.20" width="2.00" height="8.00" fill="#00f000"/>
<rect x="1296.00" y="377.10" width="2.00" height="8.00" fill="#00f000"/>
<text transform="translate(535.46,227.43) scale(0.7772,1)" font-size="36.57" font-weight="normal" fill="#a349a4" class="th" letter-spacing="1.83" style="stroke:#a349a4;stroke-width:0.8px">CCl</text>
<text transform="translate(584.32,230.50) scale(0.6993,1)" font-size="27.38" font-weight="normal" fill="#a349a4" class="th" letter-spacing="1.37" style="stroke:#a349a4;stroke-width:0.8px">4</text>
<text transform="translate(782.40,617.68) rotate(-90) scale(1.4287,1)" font-size="34.15" font-weight="bold" fill="#0a0a28" class="tv">Normalized PL intensity (a.u)</text>
<text transform="translate(800.58,44.44) scale(0.7726,1)" font-size="45.67" font-weight="bold" fill="#000" class="th" letter-spacing="2.28" >1.2</text>
<text transform="translate(802.32,132.17) scale(0.8321,1)" font-size="43.28" font-weight="bold" fill="#000" class="th" letter-spacing="2.16" >1.0</text>
<text transform="translate(803.82,224.27) scale(0.7996,1)" font-size="43.28" font-weight="bold" fill="#000" class="th" letter-spacing="2.16" >0.8</text>
<text transform="translate(804.11,314.57) scale(0.8032,1)" font-size="43.28" font-weight="bold" fill="#000" class="th" letter-spacing="2.16" >0.6</text>
<text transform="translate(804.98,408.05) scale(0.7834,1)" font-size="45.22" font-weight="bold" fill="#000" class="th" letter-spacing="2.26" >0.4</text>
<text transform="translate(805.58,496.86) scale(0.8120,1)" font-size="43.73" font-weight="bold" fill="#000" class="th" letter-spacing="2.19" >0.2</text>
<text transform="translate(807.12,583.05) scale(0.7720,1)" font-size="44.78" font-weight="bold" fill="#000" class="th" letter-spacing="2.24" >0.0</text>
<text transform="translate(833.95,626.54) scale(0.7897,1)" font-size="45.82" font-weight="bold" fill="#000" class="th" letter-spacing="2.29" >340</text>
<text transform="translate(996.77,626.54) scale(0.7811,1)" font-size="45.82" font-weight="bold" fill="#000" class="th" letter-spacing="2.29" >380</text>
<text transform="translate(1148.25,624.24) scale(0.7478,1)" font-size="46.42" font-weight="bold" fill="#000" class="th" letter-spacing="2.32" >420</text>
<text transform="translate(1300.75,621.35) scale(0.7692,1)" font-size="45.37" font-weight="bold" fill="#000" class="th" letter-spacing="2.27" >460</text>
<text transform="translate(1001.28,688.30) scale(0.7391,1)" font-size="43.77" font-weight="bold" fill="#000" class="th" letter-spacing="2.19" >Wavelength (nm)</text>
<text transform="translate(874.62,76.08) scale(0.7062,1)" font-size="45.33" font-weight="bold" fill="#000" class="th" letter-spacing="2.27" >(b)</text>
<text transform="translate(1093.26,70.35) scale(0.7440,1)" font-size="45.37" font-weight="bold" fill="#000" class="th" letter-spacing="2.27" >TPA-SBDPI</text>
<text transform="translate(1294.40,64.26) scale(0.7365,1)" font-size="34.08" font-weight="bold" fill="#000" class="th" letter-spacing="1.70" >in different</text>
<text transform="translate(1296.48,96.36) scale(0.8177,1)" font-size="33.57" font-weight="bold" fill="#000" class="th" letter-spacing="1.68" >solvents</text>
<text transform="translate(1063.23,106.82) scale(0.7007,1)" font-size="38.06" font-weight="bold" fill="#000" class="th" letter-spacing="1.90" >23 nm</text>
<line x1="1010.90" y1="121.20" x2="1182.90" y2="121.20" stroke="#000" stroke-width="2.6" />
<rect x="1282.80" y="132.20" width="11.30" height="5.60" fill="#ed1c24"/>
<text transform="translate(1296.45,147.13) scale(0.7299,1)" font-size="37.42" font-weight="bold" fill="#ed1c24" class="th" letter-spacing="1.87" style="stroke:none">Hexane</text>
<rect x="1283.60" y="171.90" width="7.70" height="6.30" fill="#ffc90e"/>
<text transform="translate(1297.87,184.05) scale(0.7599,1)" font-size="34.79" font-weight="bold" fill="#ffc90e" class="th" letter-spacing="1.74" style="stroke:none">Dioxane</text>
<rect x="1283.10" y="210.00" width="9.30" height="7.50" fill="#a349a4"/>
<rect x="1283.60" y="246.90" width="7.70" height="6.50" fill="#22b14c"/>
<text transform="translate(1297.84,260.13) scale(0.7655,1)" font-size="36.52" font-weight="bold" fill="#22b14c" class="th" letter-spacing="1.83" style="stroke:none">Benzene</text>
<rect x="1283.60" y="284.70" width="7.70" height="7.10" fill="#ff00ff"/>
<text transform="translate(1297.14,301.34) scale(0.6969,1)" font-size="36.06" font-weight="bold" fill="#ff00ff" class="th" letter-spacing="1.80" style="stroke:none">Chloroform</text>
<rect x="1282.80" y="332.70" width="12.00" height="8.20" fill="#000000"/>
<text transform="translate(1301.48,347.30) scale(0.6705,1)" font-size="38.84" font-weight="bold" fill="#000000" class="th" letter-spacing="1.94" style="stroke:none">Ethylacetate</text>
<rect x="1283.00" y="377.10" width="11.00" height="8.00" fill="#00f000"/>
<text transform="translate(1304.23,390.00) scale(0.7060,1)" font-size="38.15" font-weight="bold" fill="#00f000" class="th" letter-spacing="1.91" style="stroke:none">THF</text>
<rect x="1284.80" y="413.80" width="11.30" height="6.90" fill="#3f48cc"/>
<text transform="translate(1305.23,428.03) scale(0.7695,1)" font-size="37.01" font-weight="bold" fill="#3f48cc" class="th" letter-spacing="1.85" style="stroke:none">DCM</text>
<rect x="1284.80" y="453.40" width="10.20" height="8.20" fill="#cc0000"/>
<text transform="translate(1304.24,467.14) scale(0.7260,1)" font-size="36.06" font-weight="bold" fill="#cc0000" class="th" letter-spacing="1.80" style="stroke:none">Acetonitrile</text>
<text transform="translate(1298.46,222.24) scale(0.7803,1)" font-size="36.43" font-weight="normal" fill="#a349a4" class="th" letter-spacing="1.82" style="stroke:#a349a4;stroke-width:0.8px">CCl</text>
<text transform="translate(1347.32,225.40) scale(0.6877,1)" font-size="27.85" font-weight="normal" fill="#a349a4" class="th" letter-spacing="1.39" style="stroke:#a349a4;stroke-width:0.8px">4</text>
<rect x="161.00" y="582.50" width="3.00" height="4.00" fill="#ffffff"/>
<rect x="164.00" y="581.50" width="2.00" height="2.50" fill="#f01010"/>
<rect x="170.50" y="580.80" width="7.50" height="2.80" fill="#f8b400"/>
<rect x="187.60" y="581.00" width="5.40" height="3.50" fill="#6a28a0"/>
<rect x="199.00" y="582.50" width="2.00" height="4.00" fill="#ffffff"/>
<rect x="201.00" y="581.50" width="2.00" height="2.50" fill="#f01010"/>
<rect x="205.00" y="582.00" width="2.00" height="2.50" fill="#6a28a0"/>
<rect x="212.00" y="582.00" width="2.50" height="2.50" fill="#1ba050"/>
<rect x="215.00" y="582.50" width="3.60" height="4.00" fill="#ffffff"/>
<rect x="242.00" y="582.50" width="2.50" height="4.00" fill="#ffffff"/>
<rect x="244.50" y="581.50" width="2.00" height="3.00" fill="#ff10ff"/>
<rect x="258.00" y="581.50" width="3.00" height="2.50" fill="#1ba050"/>
<rect x="261.00" y="582.00" width="3.00" height="3.00" fill="#555"/>
<rect x="269.00" y="582.50" width="2.00" height="4.00" fill="#ffffff"/>
<rect x="271.00" y="582.00" width="3.00" height="3.00" fill="#ff10ff"/>
<rect x="284.00" y="582.50" width="2.00" height="4.00" fill="#ffffff"/>
<rect x="286.00" y="582.00" width="2.00" height="3.00" fill="#1ba050"/>
<rect x="288.50" y="582.00" width="2.00" height="3.00" fill="#1818f0"/>
<rect x="301.00" y="582.50" width="2.00" height="4.00" fill="#ffffff"/>
<rect x="303.00" y="582.00" width="2.00" height="3.00" fill="#10e010"/>
<rect x="312.50" y="582.00" width="2.50" height="3.00" fill="#1818f0"/>
<rect x="335.00" y="582.50" width="2.00" height="4.00" fill="#ffffff"/>
<rect x="337.00" y="581.50" width="2.50" height="2.50" fill="#f01010"/>
<rect x="356.00" y="580.70" width="14.70" height="4.70" fill="#f01010"/>
<rect x="370.70" y="582.50" width="3.30" height="4.00" fill="#ffffff"/>
<rect x="374.00" y="581.50" width="4.70" height="3.50" fill="#f8b400"/>
<rect x="386.00" y="582.00" width="2.00" height="3.00" fill="#f8b400"/>
<rect x="390.00" y="581.50" width="3.40" height="3.50" fill="#6a28a0"/>
<rect x="397.40" y="582.50" width="3.30" height="4.00" fill="#ffffff"/>
<rect x="400.70" y="581.50" width="2.00" height="3.50" fill="#6a28a0"/>
<rect x="420.00" y="582.00" width="6.80" height="3.00" fill="#1ba050"/>
<rect x="429.50" y="582.00" width="9.30" height="3.00" fill="#ff10ff"/>
<rect x="438.80" y="582.50" width="2.70" height="4.00" fill="#ffffff"/>
<rect x="446.80" y="582.00" width="5.20" height="3.00" fill="#111111"/>
<rect x="452.00" y="582.00" width="5.50" height="3.00" fill="#888"/>
<rect x="460.00" y="582.50" width="3.00" height="4.00" fill="#ffffff"/>
<rect x="475.00" y="582.50" width="2.00" height="4.00" fill="#ffffff"/>
<rect x="477.00" y="582.00" width="2.00" height="3.00" fill="#ff10ff"/>
<rect x="480.90" y="582.00" width="6.60" height="3.00" fill="#10e010"/>
<rect x="503.00" y="582.50" width="2.60" height="4.00" fill="#ffffff"/>
<rect x="503.50" y="581.50" width="2.00" height="2.50" fill="#1818f0"/>
<rect x="519.00" y="582.50" width="8.00" height="4.00" fill="#ffffff"/>
<rect x="523.00" y="580.50" width="3.00" height="3.00" fill="#f01010"/>
<rect x="527.00" y="582.50" width="8.00" height="4.00" fill="#ffffff"/>
<rect x="529.00" y="581.00" width="3.00" height="3.00" fill="#f01010"/>
<rect x="614.50" y="582.50" width="3.70" height="4.00" fill="#ffffff"/>
<rect x="609.00" y="578.50" width="6.00" height="3.50" fill="#f01010"/>
<rect x="615.00" y="581.00" width="2.00" height="2.50" fill="#f01010"/>
<rect x="916.50" y="575.00" width="1.50" height="4.00" fill="#ffffff"/>
<rect x="918.20" y="575.00" width="3.20" height="3.50" fill="#f01010"/>
<rect x="941.70" y="575.00" width="1.80" height="3.50" fill="#f8b400"/>
<rect x="953.00" y="575.00" width="4.00" height="3.50" fill="#6a28a0"/>
<rect x="958.00" y="574.00" width="2.00" height="3.00" fill="#f01010"/>
<rect x="997.80" y="575.00" width="2.20" height="4.00" fill="#ffffff"/>
<rect x="1010.00" y="575.50" width="8.40" height="2.50" fill="#f8b400"/>
<rect x="1018.40" y="575.00" width="3.60" height="3.50" fill="#ff10ff"/>
<rect x="1026.00" y="575.00" width="2.00" height="3.50" fill="#10e010"/>
<rect x="1023.00" y="575.00" width="2.00" height="4.00" fill="#ffffff"/>
<rect x="1040.00" y="575.00" width="2.00" height="3.50" fill="#ff10ff"/>
<rect x="1046.00" y="575.00" width="7.00" height="3.50" fill="#888"/>
<rect x="1066.50" y="575.00" width="2.50" height="4.00" fill="#ffffff"/>
<rect x="1069.50" y="575.00" width="1.80" height="3.50" fill="#10e010"/>
<rect x="1075.00" y="575.00" width="2.30" height="3.50" fill="#1818f0"/>
<rect x="1080.00" y="575.00" width="3.00" height="4.00" fill="#ffffff"/>
<rect x="1098.30" y="575.00" width="1.50" height="3.50" fill="#1818f0"/>
<rect x="1109.80" y="576.00" width="10.80" height="4.00" fill="#f01010"/>
<rect x="1135.00" y="575.00" width="4.20" height="3.50" fill="#f8b400"/>
<rect x="1143.00" y="575.00" width="1.50" height="3.50" fill="#f8b400"/>
<rect x="1163.80" y="574.50" width="2.50" height="3.50" fill="#c01818"/>
<rect x="1189.00" y="575.00" width="2.00" height="3.50" fill="#10e010"/>
<rect x="1207.50" y="575.00" width="2.00" height="3.50" fill="#ff10ff"/>
<rect x="1235.00" y="575.00" width="2.00" height="3.50" fill="#10e010"/>
<rect x="1250.00" y="575.00" width="2.50" height="3.50" fill="#6a28a0"/>
<rect x="1276.00" y="575.00" width="2.00" height="3.50" fill="#10e010"/>
<rect x="1296.50" y="575.00" width="1.50" height="3.50" fill="#1818f0"/>
<rect x="1322.00" y="575.00" width="3.00" height="3.50" fill="#c01818"/>
<rect x="1342.50" y="572.50" width="1.50" height="2.50" fill="#1818f0"/>
<rect x="1485.30" y="570.80" width="4.20" height="2.80" fill="#c01818"/>
<rect x="1489.50" y="573.00" width="3.00" height="3.00" fill="#c01818"/>
<rect x="1490.50" y="578.60" width="3.00" height="1.20" fill="#ffffff"/>
</svg>
</body></html>
